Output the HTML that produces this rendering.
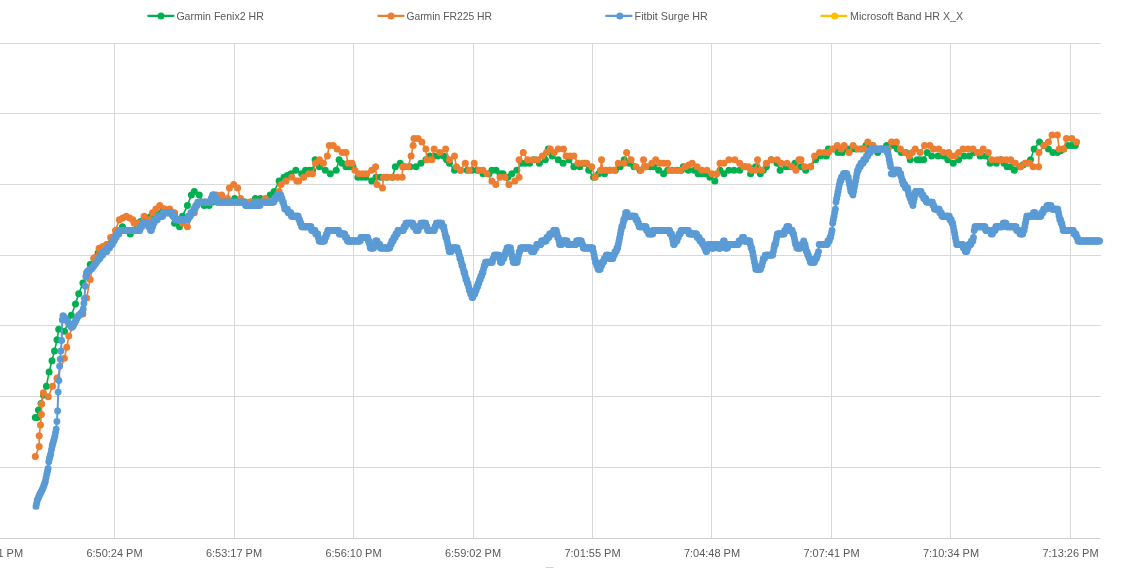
<!DOCTYPE html>
<html><head><meta charset="utf-8"><title>HR chart</title>
<style>html,body{margin:0;padding:0;background:#fff;overflow:hidden;}body{position:relative;width:1121px;height:568px;font-family:"Liberation Sans",sans-serif;}</style>
</head><body>
<svg width="1121" height="568" viewBox="0 0 1121 568" style="display:block">
<rect width="1121" height="568" fill="#ffffff"/>
<g fill="#D9D9D9" shape-rendering="crispEdges"><rect x="0" y="43" width="1100.6" height="1"/><rect x="0" y="113" width="1100.6" height="1"/><rect x="0" y="184" width="1100.6" height="1"/><rect x="0" y="255" width="1100.6" height="1"/><rect x="0" y="325" width="1100.6" height="1"/><rect x="0" y="396" width="1100.6" height="1"/><rect x="0" y="467" width="1100.6" height="1"/><rect x="114" y="43" width="1" height="495"/><rect x="234" y="43" width="1" height="495"/><rect x="353" y="43" width="1" height="495"/><rect x="473" y="43" width="1" height="495"/><rect x="592" y="43" width="1" height="495"/><rect x="711" y="43" width="1" height="495"/><rect x="831" y="43" width="1" height="495"/><rect x="950" y="43" width="1" height="495"/><rect x="1070" y="43" width="1" height="495"/></g>
<rect x="0" y="538" width="1100.6" height="1" fill="#CFCFCF"/>
<polyline points="35.3,417.5 37.3,417.5 38.5,410.0 41.0,403.4 43.5,395.0 46.4,386.2 49.1,371.9 52.0,360.8 54.5,350.9 57.0,339.8 58.7,329.2 64.4,331.2 71.3,315.2 75.5,304.1 78.7,293.7 82.9,283.1 86.6,274.5 90.2,264.6 93.9,258.5 98.0,253.0 102.0,248.0 107.0,244.5 112.0,237.4 117.0,230.4 122.4,226.8 126.5,230.4 130.3,233.9 137.2,223.3 144.0,219.8 151.0,216.2 157.0,212.7 163.0,209.1 168.0,212.7 174.6,223.3 179.5,226.8 182.5,216.2 187.4,205.6 191.4,195.0 194.3,191.5 199.3,195.0 204.2,205.6 209.1,205.6 213.0,202.1 225.0,202.1 231.0,202.1 234.7,198.5 238.5,202.1 245.0,202.1 251.5,202.1 255.4,198.5 258.0,202.1 260.4,198.5 263.5,202.1 267.0,202.1 270.2,195.0 274.2,191.5 279.1,180.9 284.0,177.3 290.9,173.8 295.8,170.3 301.7,173.8 305.5,170.3 309.6,170.3 312.5,170.3 315.1,159.7 319.4,166.7 325.3,170.3 330.3,173.8 336.2,170.3 339.1,159.7 342.1,163.2 346.0,166.7 349.5,166.7 352.9,166.7 357.9,177.3 361.8,177.3 365.7,177.3 371.7,180.9 376.0,177.3 380.5,177.3 386.5,177.3 392.4,177.3 395.3,166.7 400.2,163.2 404.5,166.7 410.0,166.7 416.0,166.7 420.9,163.2 425.9,159.7 429.8,156.1 433.8,156.1 437.7,156.1 443.6,156.1 449.5,163.2 454.5,170.3 460.5,170.3 467.3,170.3 472.0,170.3 477.1,170.3 483.0,173.8 489.0,173.8 491.9,170.3 496.0,170.3 500.0,173.8 503.0,173.8 507.9,177.3 511.8,173.8 516.8,170.3 521.7,163.2 525.5,163.2 529.6,163.2 534.5,159.7 539.4,163.2 545.3,159.7 548.3,149.1 552.2,156.1 558.2,159.7 563.1,163.2 569.0,159.7 573.9,166.7 579.8,166.7 584.5,163.2 588.7,170.3 593.6,177.3 598.6,173.8 604.5,173.8 609.5,170.3 615.3,170.3 620.2,166.7 624.2,159.7 629.1,163.2 634.0,166.7 640.0,170.3 645.9,166.7 650.0,166.7 653.8,166.7 658.7,170.3 663.6,173.8 667.6,170.3 672.0,170.3 677.0,170.3 681.4,170.3 683.3,166.7 688.3,170.3 694.2,170.3 698.1,173.8 701.5,173.8 705.0,173.8 709.9,177.3 714.9,180.9 720.0,170.3 723.9,173.8 728.9,170.3 734.0,170.3 739.7,170.3 745.5,166.7 750.6,173.8 755.5,166.7 760.4,173.8 766.3,166.7 771.3,159.7 777.0,163.2 780.1,170.3 786.0,166.7 790.5,166.7 794.9,163.2 800.8,166.7 805.7,170.3 810.5,166.7 815.6,159.7 820.5,156.1 826.4,156.1 828.4,149.1 834.0,149.1 838.0,152.6 842.2,152.6 848.0,149.1 852.0,149.1 856.0,149.1 861.0,149.1 865.9,145.5 872.8,145.5 877.7,152.6 882.0,149.1 886.6,145.5 893.5,145.5 897.4,149.1 901.3,152.6 906.0,152.6 910.2,159.7 917.1,159.7 920.0,159.7 923.6,159.7 927.2,152.6 931.7,156.1 938.0,156.1 943.4,156.1 947.8,159.7 953.2,163.2 958.6,159.7 964.0,156.1 969.4,156.1 974.0,152.6 980.2,156.1 985.6,156.1 990.1,163.2 996.3,163.2 1000.8,159.7 1007.1,166.7 1010.7,166.7 1014.3,170.3 1019.7,166.7 1026.0,163.2 1030.5,159.7 1034.1,149.1 1039.5,142.0 1043.9,145.5 1048.4,149.1 1052.9,152.6 1057.4,152.6 1063.7,149.1 1068.2,145.5 1072.0,145.5 1075.4,145.5" fill="none" stroke="#00B050" stroke-width="1.6" stroke-linejoin="round" stroke-linecap="round"/><g fill="#00B050"><circle cx="35.3" cy="417.5" r="3.5"/><circle cx="37.3" cy="417.5" r="3.5"/><circle cx="38.5" cy="410.0" r="3.5"/><circle cx="41.0" cy="403.4" r="3.5"/><circle cx="43.5" cy="395.0" r="3.5"/><circle cx="46.4" cy="386.2" r="3.5"/><circle cx="49.1" cy="371.9" r="3.5"/><circle cx="52.0" cy="360.8" r="3.5"/><circle cx="54.5" cy="350.9" r="3.5"/><circle cx="57.0" cy="339.8" r="3.5"/><circle cx="58.7" cy="329.2" r="3.5"/><circle cx="64.4" cy="331.2" r="3.5"/><circle cx="71.3" cy="315.2" r="3.5"/><circle cx="75.5" cy="304.1" r="3.5"/><circle cx="78.7" cy="293.7" r="3.5"/><circle cx="82.9" cy="283.1" r="3.5"/><circle cx="86.6" cy="274.5" r="3.5"/><circle cx="90.2" cy="264.6" r="3.5"/><circle cx="93.9" cy="258.5" r="3.5"/><circle cx="98.0" cy="253.0" r="3.5"/><circle cx="102.0" cy="248.0" r="3.5"/><circle cx="107.0" cy="244.5" r="3.5"/><circle cx="112.0" cy="237.4" r="3.5"/><circle cx="117.0" cy="230.4" r="3.5"/><circle cx="122.4" cy="226.8" r="3.5"/><circle cx="126.5" cy="230.4" r="3.5"/><circle cx="130.3" cy="233.9" r="3.5"/><circle cx="137.2" cy="223.3" r="3.5"/><circle cx="140.6" cy="221.5" r="3.5"/><circle cx="144.0" cy="219.8" r="3.5"/><circle cx="147.5" cy="218.0" r="3.5"/><circle cx="151.0" cy="216.2" r="3.5"/><circle cx="157.0" cy="212.7" r="3.5"/><circle cx="163.0" cy="209.1" r="3.5"/><circle cx="168.0" cy="212.7" r="3.5"/><circle cx="174.6" cy="223.3" r="3.5"/><circle cx="179.5" cy="226.8" r="3.5"/><circle cx="182.5" cy="216.2" r="3.5"/><circle cx="187.4" cy="205.6" r="3.5"/><circle cx="191.4" cy="195.0" r="3.5"/><circle cx="194.3" cy="191.5" r="3.5"/><circle cx="199.3" cy="195.0" r="3.5"/><circle cx="204.2" cy="205.6" r="3.5"/><circle cx="209.1" cy="205.6" r="3.5"/><circle cx="213.0" cy="202.1" r="3.5"/><circle cx="217.0" cy="202.1" r="3.5"/><circle cx="221.0" cy="202.1" r="3.5"/><circle cx="225.0" cy="202.1" r="3.5"/><circle cx="231.0" cy="202.1" r="3.5"/><circle cx="234.7" cy="198.5" r="3.5"/><circle cx="238.5" cy="202.1" r="3.5"/><circle cx="245.0" cy="202.1" r="3.5"/><circle cx="251.5" cy="202.1" r="3.5"/><circle cx="255.4" cy="198.5" r="3.5"/><circle cx="258.0" cy="202.1" r="3.5"/><circle cx="260.4" cy="198.5" r="3.5"/><circle cx="263.5" cy="202.1" r="3.5"/><circle cx="267.0" cy="202.1" r="3.5"/><circle cx="270.2" cy="195.0" r="3.5"/><circle cx="274.2" cy="191.5" r="3.5"/><circle cx="279.1" cy="180.9" r="3.5"/><circle cx="284.0" cy="177.3" r="3.5"/><circle cx="287.4" cy="175.6" r="3.5"/><circle cx="290.9" cy="173.8" r="3.5"/><circle cx="295.8" cy="170.3" r="3.5"/><circle cx="301.7" cy="173.8" r="3.5"/><circle cx="305.5" cy="170.3" r="3.5"/><circle cx="309.6" cy="170.3" r="3.5"/><circle cx="312.5" cy="170.3" r="3.5"/><circle cx="315.1" cy="159.7" r="3.5"/><circle cx="319.4" cy="166.7" r="3.5"/><circle cx="325.3" cy="170.3" r="3.5"/><circle cx="330.3" cy="173.8" r="3.5"/><circle cx="336.2" cy="170.3" r="3.5"/><circle cx="339.1" cy="159.7" r="3.5"/><circle cx="342.1" cy="163.2" r="3.5"/><circle cx="346.0" cy="166.7" r="3.5"/><circle cx="349.5" cy="166.7" r="3.5"/><circle cx="352.9" cy="166.7" r="3.5"/><circle cx="357.9" cy="177.3" r="3.5"/><circle cx="361.8" cy="177.3" r="3.5"/><circle cx="365.7" cy="177.3" r="3.5"/><circle cx="371.7" cy="180.9" r="3.5"/><circle cx="376.0" cy="177.3" r="3.5"/><circle cx="380.5" cy="177.3" r="3.5"/><circle cx="386.5" cy="177.3" r="3.5"/><circle cx="392.4" cy="177.3" r="3.5"/><circle cx="395.3" cy="166.7" r="3.5"/><circle cx="400.2" cy="163.2" r="3.5"/><circle cx="404.5" cy="166.7" r="3.5"/><circle cx="410.0" cy="166.7" r="3.5"/><circle cx="416.0" cy="166.7" r="3.5"/><circle cx="420.9" cy="163.2" r="3.5"/><circle cx="425.9" cy="159.7" r="3.5"/><circle cx="429.8" cy="156.1" r="3.5"/><circle cx="433.8" cy="156.1" r="3.5"/><circle cx="437.7" cy="156.1" r="3.5"/><circle cx="443.6" cy="156.1" r="3.5"/><circle cx="446.6" cy="159.7" r="3.5"/><circle cx="449.5" cy="163.2" r="3.5"/><circle cx="454.5" cy="170.3" r="3.5"/><circle cx="460.5" cy="170.3" r="3.5"/><circle cx="467.3" cy="170.3" r="3.5"/><circle cx="472.0" cy="170.3" r="3.5"/><circle cx="477.1" cy="170.3" r="3.5"/><circle cx="483.0" cy="173.8" r="3.5"/><circle cx="489.0" cy="173.8" r="3.5"/><circle cx="491.9" cy="170.3" r="3.5"/><circle cx="496.0" cy="170.3" r="3.5"/><circle cx="500.0" cy="173.8" r="3.5"/><circle cx="503.0" cy="173.8" r="3.5"/><circle cx="507.9" cy="177.3" r="3.5"/><circle cx="511.8" cy="173.8" r="3.5"/><circle cx="516.8" cy="170.3" r="3.5"/><circle cx="521.7" cy="163.2" r="3.5"/><circle cx="525.5" cy="163.2" r="3.5"/><circle cx="529.6" cy="163.2" r="3.5"/><circle cx="534.5" cy="159.7" r="3.5"/><circle cx="539.4" cy="163.2" r="3.5"/><circle cx="545.3" cy="159.7" r="3.5"/><circle cx="548.3" cy="149.1" r="3.5"/><circle cx="552.2" cy="156.1" r="3.5"/><circle cx="558.2" cy="159.7" r="3.5"/><circle cx="563.1" cy="163.2" r="3.5"/><circle cx="569.0" cy="159.7" r="3.5"/><circle cx="573.9" cy="166.7" r="3.5"/><circle cx="579.8" cy="166.7" r="3.5"/><circle cx="584.5" cy="163.2" r="3.5"/><circle cx="588.7" cy="170.3" r="3.5"/><circle cx="593.6" cy="177.3" r="3.5"/><circle cx="598.6" cy="173.8" r="3.5"/><circle cx="604.5" cy="173.8" r="3.5"/><circle cx="609.5" cy="170.3" r="3.5"/><circle cx="615.3" cy="170.3" r="3.5"/><circle cx="620.2" cy="166.7" r="3.5"/><circle cx="624.2" cy="159.7" r="3.5"/><circle cx="629.1" cy="163.2" r="3.5"/><circle cx="634.0" cy="166.7" r="3.5"/><circle cx="640.0" cy="170.3" r="3.5"/><circle cx="645.9" cy="166.7" r="3.5"/><circle cx="650.0" cy="166.7" r="3.5"/><circle cx="653.8" cy="166.7" r="3.5"/><circle cx="658.7" cy="170.3" r="3.5"/><circle cx="663.6" cy="173.8" r="3.5"/><circle cx="667.6" cy="170.3" r="3.5"/><circle cx="672.0" cy="170.3" r="3.5"/><circle cx="677.0" cy="170.3" r="3.5"/><circle cx="681.4" cy="170.3" r="3.5"/><circle cx="683.3" cy="166.7" r="3.5"/><circle cx="688.3" cy="170.3" r="3.5"/><circle cx="694.2" cy="170.3" r="3.5"/><circle cx="698.1" cy="173.8" r="3.5"/><circle cx="701.5" cy="173.8" r="3.5"/><circle cx="705.0" cy="173.8" r="3.5"/><circle cx="709.9" cy="177.3" r="3.5"/><circle cx="714.9" cy="180.9" r="3.5"/><circle cx="720.0" cy="170.3" r="3.5"/><circle cx="723.9" cy="173.8" r="3.5"/><circle cx="728.9" cy="170.3" r="3.5"/><circle cx="734.0" cy="170.3" r="3.5"/><circle cx="739.7" cy="170.3" r="3.5"/><circle cx="745.5" cy="166.7" r="3.5"/><circle cx="750.6" cy="173.8" r="3.5"/><circle cx="755.5" cy="166.7" r="3.5"/><circle cx="760.4" cy="173.8" r="3.5"/><circle cx="763.3" cy="170.3" r="3.5"/><circle cx="766.3" cy="166.7" r="3.5"/><circle cx="771.3" cy="159.7" r="3.5"/><circle cx="777.0" cy="163.2" r="3.5"/><circle cx="780.1" cy="170.3" r="3.5"/><circle cx="786.0" cy="166.7" r="3.5"/><circle cx="790.5" cy="166.7" r="3.5"/><circle cx="794.9" cy="163.2" r="3.5"/><circle cx="800.8" cy="166.7" r="3.5"/><circle cx="805.7" cy="170.3" r="3.5"/><circle cx="810.5" cy="166.7" r="3.5"/><circle cx="815.6" cy="159.7" r="3.5"/><circle cx="820.5" cy="156.1" r="3.5"/><circle cx="826.4" cy="156.1" r="3.5"/><circle cx="828.4" cy="149.1" r="3.5"/><circle cx="834.0" cy="149.1" r="3.5"/><circle cx="838.0" cy="152.6" r="3.5"/><circle cx="842.2" cy="152.6" r="3.5"/><circle cx="848.0" cy="149.1" r="3.5"/><circle cx="852.0" cy="149.1" r="3.5"/><circle cx="856.0" cy="149.1" r="3.5"/><circle cx="861.0" cy="149.1" r="3.5"/><circle cx="865.9" cy="145.5" r="3.5"/><circle cx="872.8" cy="145.5" r="3.5"/><circle cx="877.7" cy="152.6" r="3.5"/><circle cx="882.0" cy="149.1" r="3.5"/><circle cx="886.6" cy="145.5" r="3.5"/><circle cx="893.5" cy="145.5" r="3.5"/><circle cx="897.4" cy="149.1" r="3.5"/><circle cx="901.3" cy="152.6" r="3.5"/><circle cx="906.0" cy="152.6" r="3.5"/><circle cx="910.2" cy="159.7" r="3.5"/><circle cx="917.1" cy="159.7" r="3.5"/><circle cx="920.0" cy="159.7" r="3.5"/><circle cx="923.6" cy="159.7" r="3.5"/><circle cx="927.2" cy="152.6" r="3.5"/><circle cx="931.7" cy="156.1" r="3.5"/><circle cx="938.0" cy="156.1" r="3.5"/><circle cx="943.4" cy="156.1" r="3.5"/><circle cx="947.8" cy="159.7" r="3.5"/><circle cx="953.2" cy="163.2" r="3.5"/><circle cx="958.6" cy="159.7" r="3.5"/><circle cx="964.0" cy="156.1" r="3.5"/><circle cx="969.4" cy="156.1" r="3.5"/><circle cx="974.0" cy="152.6" r="3.5"/><circle cx="980.2" cy="156.1" r="3.5"/><circle cx="985.6" cy="156.1" r="3.5"/><circle cx="990.1" cy="163.2" r="3.5"/><circle cx="996.3" cy="163.2" r="3.5"/><circle cx="1000.8" cy="159.7" r="3.5"/><circle cx="1004.0" cy="163.2" r="3.5"/><circle cx="1007.1" cy="166.7" r="3.5"/><circle cx="1010.7" cy="166.7" r="3.5"/><circle cx="1014.3" cy="170.3" r="3.5"/><circle cx="1019.7" cy="166.7" r="3.5"/><circle cx="1022.9" cy="165.0" r="3.5"/><circle cx="1026.0" cy="163.2" r="3.5"/><circle cx="1030.5" cy="159.7" r="3.5"/><circle cx="1034.1" cy="149.1" r="3.5"/><circle cx="1039.5" cy="142.0" r="3.5"/><circle cx="1043.9" cy="145.5" r="3.5"/><circle cx="1048.4" cy="149.1" r="3.5"/><circle cx="1052.9" cy="152.6" r="3.5"/><circle cx="1057.4" cy="152.6" r="3.5"/><circle cx="1060.6" cy="150.8" r="3.5"/><circle cx="1063.7" cy="149.1" r="3.5"/><circle cx="1068.2" cy="145.5" r="3.5"/><circle cx="1072.0" cy="145.5" r="3.5"/><circle cx="1075.4" cy="145.5" r="3.5"/></g>
<polyline points="35.3,456.4 39.2,446.6 39.2,435.7 40.5,424.9 41.4,414.5 41.7,403.9 43.4,392.8 48.3,396.8 52.5,386.2 57.0,378.0 64.4,358.3 66.8,347.2 68.8,336.1 73.0,326.3 82.9,313.9 86.6,297.9 90.2,279.4 93.9,258.5 94.8,257.6 99.1,248.3 106.6,244.5 110.6,237.4 115.5,230.4 119.4,219.8 126.3,216.2 132.8,219.8 134.2,223.3 139.1,223.3 144.1,216.2 149.0,219.8 152.5,212.7 155.9,209.1 159.8,205.6 164.8,209.1 169.7,209.1 174.6,212.7 178.5,219.8 182.5,223.3 187.4,226.8 194.3,212.7 196.3,205.6 200.0,202.1 210.0,202.1 216.5,195.0 221.6,195.0 222.6,198.5 227.5,198.5 229.4,187.9 233.7,184.4 237.7,187.9 240.5,198.5 243.0,202.1 250.0,202.1 258.0,202.1 262.0,202.1 265.3,198.5 268.5,202.1 272.0,202.1 275.5,198.5 279.1,191.5 281.1,184.4 286.0,180.9 291.9,177.3 296.8,180.9 298.7,180.9 303.7,177.3 308.6,173.8 312.5,173.8 315.5,163.2 319.4,159.7 323.4,163.2 327.3,156.1 329.3,145.5 333.2,145.5 337.2,149.1 342.1,152.6 346.0,152.6 348.0,163.2 352.0,163.2 354.9,170.3 358.8,173.8 362.7,173.8 366.7,173.8 371.7,170.3 375.6,166.7 377.0,184.4 382.5,187.9 383.5,177.3 388.2,177.3 392.9,177.3 397.6,177.3 402.2,177.3 402.6,166.7 408.1,166.7 411.1,156.1 413.1,145.5 414.0,138.4 418.0,138.4 421.9,142.0 425.9,149.1 426.9,159.7 431.8,159.7 434.1,149.1 439.7,152.6 445.6,149.1 449.5,159.7 454.5,156.1 456.4,166.7 460.4,170.3 465.3,163.2 469.2,170.3 474.2,163.2 479.1,170.3 483.0,170.3 487.0,173.8 491.9,180.9 495.8,184.4 500.0,177.3 504.9,177.3 508.9,184.4 514.8,180.9 519.1,177.3 519.1,159.7 523.3,152.6 527.6,159.7 532.5,159.7 537.5,159.7 542.4,156.1 546.5,152.6 550.3,149.1 554.2,152.6 558.2,149.1 563.5,149.1 566.0,156.1 570.0,156.1 573.9,156.1 577.9,163.2 582.3,163.2 586.7,163.2 591.7,166.7 595.2,177.3 600.5,170.3 601.5,159.7 602.5,170.3 606.4,170.3 610.4,170.3 614.3,170.3 618.3,163.2 624.2,163.2 626.6,152.6 631.1,159.7 636.0,166.7 640.9,170.3 643.5,159.7 645.9,166.7 651.8,163.2 655.7,159.7 659.7,163.2 663.6,163.2 667.6,163.2 669.9,170.3 675.0,170.3 680.4,170.3 685.3,166.7 692.2,163.2 697.1,166.7 702.0,170.3 707.0,170.3 711.9,173.8 716.8,173.8 720.0,163.2 723.9,163.2 728.9,159.7 734.8,159.7 739.7,163.2 743.7,166.7 748.6,166.7 751.5,170.3 755.5,170.3 757.5,159.7 761.4,170.3 766.3,163.2 771.3,159.7 777.2,159.7 781.1,163.2 787.0,163.2 792.0,166.7 795.9,170.3 798.9,159.7 801.0,159.7 804.8,166.7 810.7,166.7 814.6,156.1 819.5,152.6 824.5,152.6 828.5,152.6 832.4,149.1 837.3,145.5 841.2,149.1 844.2,145.5 849.1,152.6 853.1,145.5 858.0,149.1 863.9,149.1 867.8,142.0 872.8,145.5 876.5,149.1 880.5,149.1 884.5,149.1 888.0,149.1 891.5,142.0 896.4,142.0 900.4,149.1 905.3,152.6 909.2,156.1 915.2,149.1 920.1,152.6 924.5,145.5 929.9,145.5 933.5,149.1 938.9,149.1 943.4,152.6 948.7,152.6 951.4,156.1 955.0,156.1 958.6,152.6 963.1,149.1 968.0,149.1 973.0,149.1 977.5,152.6 980.5,152.6 983.2,149.1 988.3,152.6 991.9,159.7 997.2,159.7 1001.5,159.7 1006.0,159.7 1010.7,159.7 1015.2,163.2 1020.6,166.7 1025.1,163.2 1029.6,163.2 1033.2,166.7 1038.6,166.7 1038.9,152.6 1043.9,145.5 1048.4,142.0 1052.0,134.9 1057.4,134.9 1059.2,149.1 1063.7,149.1 1066.4,138.4 1071.8,138.4 1076.6,142.0" fill="none" stroke="#ED7D31" stroke-width="1.6" stroke-linejoin="round" stroke-linecap="round"/><g fill="#ED7D31"><circle cx="35.3" cy="456.4" r="3.5"/><circle cx="39.2" cy="446.6" r="3.5"/><circle cx="39.2" cy="435.7" r="3.5"/><circle cx="40.5" cy="424.9" r="3.5"/><circle cx="41.4" cy="414.5" r="3.5"/><circle cx="41.7" cy="403.9" r="3.5"/><circle cx="43.4" cy="392.8" r="3.5"/><circle cx="48.3" cy="396.8" r="3.5"/><circle cx="52.5" cy="386.2" r="3.5"/><circle cx="57.0" cy="378.0" r="3.5"/><circle cx="64.4" cy="358.3" r="3.5"/><circle cx="66.8" cy="347.2" r="3.5"/><circle cx="68.8" cy="336.1" r="3.5"/><circle cx="73.0" cy="326.3" r="3.5"/><circle cx="82.9" cy="313.9" r="3.5"/><circle cx="86.6" cy="297.9" r="3.5"/><circle cx="90.2" cy="279.4" r="3.5"/><circle cx="93.9" cy="258.5" r="3.5"/><circle cx="94.8" cy="257.6" r="3.5"/><circle cx="99.1" cy="248.3" r="3.5"/><circle cx="102.8" cy="246.4" r="3.5"/><circle cx="106.6" cy="244.5" r="3.5"/><circle cx="110.6" cy="237.4" r="3.5"/><circle cx="115.5" cy="230.4" r="3.5"/><circle cx="119.4" cy="219.8" r="3.5"/><circle cx="122.8" cy="218.0" r="3.5"/><circle cx="126.3" cy="216.2" r="3.5"/><circle cx="129.6" cy="218.0" r="3.5"/><circle cx="132.8" cy="219.8" r="3.5"/><circle cx="134.2" cy="223.3" r="3.5"/><circle cx="139.1" cy="223.3" r="3.5"/><circle cx="144.1" cy="216.2" r="3.5"/><circle cx="149.0" cy="219.8" r="3.5"/><circle cx="152.5" cy="212.7" r="3.5"/><circle cx="155.9" cy="209.1" r="3.5"/><circle cx="159.8" cy="205.6" r="3.5"/><circle cx="164.8" cy="209.1" r="3.5"/><circle cx="169.7" cy="209.1" r="3.5"/><circle cx="174.6" cy="212.7" r="3.5"/><circle cx="178.5" cy="219.8" r="3.5"/><circle cx="182.5" cy="223.3" r="3.5"/><circle cx="187.4" cy="226.8" r="3.5"/><circle cx="194.3" cy="212.7" r="3.5"/><circle cx="196.3" cy="205.6" r="3.5"/><circle cx="200.0" cy="202.1" r="3.5"/><circle cx="205.0" cy="202.1" r="3.5"/><circle cx="210.0" cy="202.1" r="3.5"/><circle cx="213.2" cy="198.5" r="3.5"/><circle cx="216.5" cy="195.0" r="3.5"/><circle cx="221.6" cy="195.0" r="3.5"/><circle cx="222.6" cy="198.5" r="3.5"/><circle cx="227.5" cy="198.5" r="3.5"/><circle cx="229.4" cy="187.9" r="3.5"/><circle cx="233.7" cy="184.4" r="3.5"/><circle cx="237.7" cy="187.9" r="3.5"/><circle cx="240.5" cy="198.5" r="3.5"/><circle cx="243.0" cy="202.1" r="3.5"/><circle cx="250.0" cy="202.1" r="3.5"/><circle cx="254.0" cy="202.1" r="3.5"/><circle cx="258.0" cy="202.1" r="3.5"/><circle cx="262.0" cy="202.1" r="3.5"/><circle cx="265.3" cy="198.5" r="3.5"/><circle cx="268.5" cy="202.1" r="3.5"/><circle cx="272.0" cy="202.1" r="3.5"/><circle cx="275.5" cy="198.5" r="3.5"/><circle cx="279.1" cy="191.5" r="3.5"/><circle cx="281.1" cy="184.4" r="3.5"/><circle cx="286.0" cy="180.9" r="3.5"/><circle cx="291.9" cy="177.3" r="3.5"/><circle cx="296.8" cy="180.9" r="3.5"/><circle cx="298.7" cy="180.9" r="3.5"/><circle cx="303.7" cy="177.3" r="3.5"/><circle cx="308.6" cy="173.8" r="3.5"/><circle cx="312.5" cy="173.8" r="3.5"/><circle cx="315.5" cy="163.2" r="3.5"/><circle cx="319.4" cy="159.7" r="3.5"/><circle cx="323.4" cy="163.2" r="3.5"/><circle cx="327.3" cy="156.1" r="3.5"/><circle cx="329.3" cy="145.5" r="3.5"/><circle cx="333.2" cy="145.5" r="3.5"/><circle cx="337.2" cy="149.1" r="3.5"/><circle cx="342.1" cy="152.6" r="3.5"/><circle cx="346.0" cy="152.6" r="3.5"/><circle cx="348.0" cy="163.2" r="3.5"/><circle cx="352.0" cy="163.2" r="3.5"/><circle cx="354.9" cy="170.3" r="3.5"/><circle cx="358.8" cy="173.8" r="3.5"/><circle cx="362.7" cy="173.8" r="3.5"/><circle cx="366.7" cy="173.8" r="3.5"/><circle cx="371.7" cy="170.3" r="3.5"/><circle cx="375.6" cy="166.7" r="3.5"/><circle cx="377.0" cy="184.4" r="3.5"/><circle cx="382.5" cy="187.9" r="3.5"/><circle cx="383.5" cy="177.3" r="3.5"/><circle cx="388.2" cy="177.3" r="3.5"/><circle cx="392.9" cy="177.3" r="3.5"/><circle cx="397.6" cy="177.3" r="3.5"/><circle cx="402.2" cy="177.3" r="3.5"/><circle cx="402.6" cy="166.7" r="3.5"/><circle cx="408.1" cy="166.7" r="3.5"/><circle cx="411.1" cy="156.1" r="3.5"/><circle cx="413.1" cy="145.5" r="3.5"/><circle cx="414.0" cy="138.4" r="3.5"/><circle cx="418.0" cy="138.4" r="3.5"/><circle cx="421.9" cy="142.0" r="3.5"/><circle cx="425.9" cy="149.1" r="3.5"/><circle cx="426.9" cy="159.7" r="3.5"/><circle cx="431.8" cy="159.7" r="3.5"/><circle cx="434.1" cy="149.1" r="3.5"/><circle cx="439.7" cy="152.6" r="3.5"/><circle cx="445.6" cy="149.1" r="3.5"/><circle cx="449.5" cy="159.7" r="3.5"/><circle cx="454.5" cy="156.1" r="3.5"/><circle cx="456.4" cy="166.7" r="3.5"/><circle cx="460.4" cy="170.3" r="3.5"/><circle cx="465.3" cy="163.2" r="3.5"/><circle cx="469.2" cy="170.3" r="3.5"/><circle cx="474.2" cy="163.2" r="3.5"/><circle cx="479.1" cy="170.3" r="3.5"/><circle cx="483.0" cy="170.3" r="3.5"/><circle cx="487.0" cy="173.8" r="3.5"/><circle cx="491.9" cy="180.9" r="3.5"/><circle cx="495.8" cy="184.4" r="3.5"/><circle cx="500.0" cy="177.3" r="3.5"/><circle cx="504.9" cy="177.3" r="3.5"/><circle cx="508.9" cy="184.4" r="3.5"/><circle cx="514.8" cy="180.9" r="3.5"/><circle cx="519.1" cy="177.3" r="3.5"/><circle cx="519.1" cy="159.7" r="3.5"/><circle cx="523.3" cy="152.6" r="3.5"/><circle cx="527.6" cy="159.7" r="3.5"/><circle cx="532.5" cy="159.7" r="3.5"/><circle cx="537.5" cy="159.7" r="3.5"/><circle cx="542.4" cy="156.1" r="3.5"/><circle cx="546.5" cy="152.6" r="3.5"/><circle cx="550.3" cy="149.1" r="3.5"/><circle cx="554.2" cy="152.6" r="3.5"/><circle cx="558.2" cy="149.1" r="3.5"/><circle cx="563.5" cy="149.1" r="3.5"/><circle cx="566.0" cy="156.1" r="3.5"/><circle cx="570.0" cy="156.1" r="3.5"/><circle cx="573.9" cy="156.1" r="3.5"/><circle cx="577.9" cy="163.2" r="3.5"/><circle cx="582.3" cy="163.2" r="3.5"/><circle cx="586.7" cy="163.2" r="3.5"/><circle cx="591.7" cy="166.7" r="3.5"/><circle cx="595.2" cy="177.3" r="3.5"/><circle cx="600.5" cy="170.3" r="3.5"/><circle cx="601.5" cy="159.7" r="3.5"/><circle cx="602.5" cy="170.3" r="3.5"/><circle cx="606.4" cy="170.3" r="3.5"/><circle cx="610.4" cy="170.3" r="3.5"/><circle cx="614.3" cy="170.3" r="3.5"/><circle cx="618.3" cy="163.2" r="3.5"/><circle cx="624.2" cy="163.2" r="3.5"/><circle cx="626.6" cy="152.6" r="3.5"/><circle cx="631.1" cy="159.7" r="3.5"/><circle cx="636.0" cy="166.7" r="3.5"/><circle cx="640.9" cy="170.3" r="3.5"/><circle cx="643.5" cy="159.7" r="3.5"/><circle cx="645.9" cy="166.7" r="3.5"/><circle cx="651.8" cy="163.2" r="3.5"/><circle cx="655.7" cy="159.7" r="3.5"/><circle cx="659.7" cy="163.2" r="3.5"/><circle cx="663.6" cy="163.2" r="3.5"/><circle cx="667.6" cy="163.2" r="3.5"/><circle cx="669.9" cy="170.3" r="3.5"/><circle cx="675.0" cy="170.3" r="3.5"/><circle cx="680.4" cy="170.3" r="3.5"/><circle cx="685.3" cy="166.7" r="3.5"/><circle cx="688.8" cy="165.0" r="3.5"/><circle cx="692.2" cy="163.2" r="3.5"/><circle cx="697.1" cy="166.7" r="3.5"/><circle cx="702.0" cy="170.3" r="3.5"/><circle cx="707.0" cy="170.3" r="3.5"/><circle cx="711.9" cy="173.8" r="3.5"/><circle cx="716.8" cy="173.8" r="3.5"/><circle cx="720.0" cy="163.2" r="3.5"/><circle cx="723.9" cy="163.2" r="3.5"/><circle cx="728.9" cy="159.7" r="3.5"/><circle cx="734.8" cy="159.7" r="3.5"/><circle cx="739.7" cy="163.2" r="3.5"/><circle cx="743.7" cy="166.7" r="3.5"/><circle cx="748.6" cy="166.7" r="3.5"/><circle cx="751.5" cy="170.3" r="3.5"/><circle cx="755.5" cy="170.3" r="3.5"/><circle cx="757.5" cy="159.7" r="3.5"/><circle cx="761.4" cy="170.3" r="3.5"/><circle cx="766.3" cy="163.2" r="3.5"/><circle cx="771.3" cy="159.7" r="3.5"/><circle cx="777.2" cy="159.7" r="3.5"/><circle cx="781.1" cy="163.2" r="3.5"/><circle cx="787.0" cy="163.2" r="3.5"/><circle cx="792.0" cy="166.7" r="3.5"/><circle cx="795.9" cy="170.3" r="3.5"/><circle cx="798.9" cy="159.7" r="3.5"/><circle cx="801.0" cy="159.7" r="3.5"/><circle cx="804.8" cy="166.7" r="3.5"/><circle cx="810.7" cy="166.7" r="3.5"/><circle cx="814.6" cy="156.1" r="3.5"/><circle cx="819.5" cy="152.6" r="3.5"/><circle cx="824.5" cy="152.6" r="3.5"/><circle cx="828.5" cy="152.6" r="3.5"/><circle cx="832.4" cy="149.1" r="3.5"/><circle cx="837.3" cy="145.5" r="3.5"/><circle cx="841.2" cy="149.1" r="3.5"/><circle cx="844.2" cy="145.5" r="3.5"/><circle cx="849.1" cy="152.6" r="3.5"/><circle cx="853.1" cy="145.5" r="3.5"/><circle cx="858.0" cy="149.1" r="3.5"/><circle cx="863.9" cy="149.1" r="3.5"/><circle cx="867.8" cy="142.0" r="3.5"/><circle cx="872.8" cy="145.5" r="3.5"/><circle cx="876.5" cy="149.1" r="3.5"/><circle cx="880.5" cy="149.1" r="3.5"/><circle cx="884.5" cy="149.1" r="3.5"/><circle cx="888.0" cy="149.1" r="3.5"/><circle cx="891.5" cy="142.0" r="3.5"/><circle cx="896.4" cy="142.0" r="3.5"/><circle cx="900.4" cy="149.1" r="3.5"/><circle cx="905.3" cy="152.6" r="3.5"/><circle cx="909.2" cy="156.1" r="3.5"/><circle cx="912.2" cy="152.6" r="3.5"/><circle cx="915.2" cy="149.1" r="3.5"/><circle cx="920.1" cy="152.6" r="3.5"/><circle cx="924.5" cy="145.5" r="3.5"/><circle cx="929.9" cy="145.5" r="3.5"/><circle cx="933.5" cy="149.1" r="3.5"/><circle cx="938.9" cy="149.1" r="3.5"/><circle cx="943.4" cy="152.6" r="3.5"/><circle cx="948.7" cy="152.6" r="3.5"/><circle cx="951.4" cy="156.1" r="3.5"/><circle cx="955.0" cy="156.1" r="3.5"/><circle cx="958.6" cy="152.6" r="3.5"/><circle cx="963.1" cy="149.1" r="3.5"/><circle cx="968.0" cy="149.1" r="3.5"/><circle cx="973.0" cy="149.1" r="3.5"/><circle cx="977.5" cy="152.6" r="3.5"/><circle cx="980.5" cy="152.6" r="3.5"/><circle cx="983.2" cy="149.1" r="3.5"/><circle cx="988.3" cy="152.6" r="3.5"/><circle cx="991.9" cy="159.7" r="3.5"/><circle cx="997.2" cy="159.7" r="3.5"/><circle cx="1001.5" cy="159.7" r="3.5"/><circle cx="1006.0" cy="159.7" r="3.5"/><circle cx="1010.7" cy="159.7" r="3.5"/><circle cx="1015.2" cy="163.2" r="3.5"/><circle cx="1020.6" cy="166.7" r="3.5"/><circle cx="1025.1" cy="163.2" r="3.5"/><circle cx="1029.6" cy="163.2" r="3.5"/><circle cx="1033.2" cy="166.7" r="3.5"/><circle cx="1038.6" cy="166.7" r="3.5"/><circle cx="1038.9" cy="152.6" r="3.5"/><circle cx="1043.9" cy="145.5" r="3.5"/><circle cx="1048.4" cy="142.0" r="3.5"/><circle cx="1052.0" cy="134.9" r="3.5"/><circle cx="1057.4" cy="134.9" r="3.5"/><circle cx="1059.2" cy="149.1" r="3.5"/><circle cx="1063.7" cy="149.1" r="3.5"/><circle cx="1066.4" cy="138.4" r="3.5"/><circle cx="1071.8" cy="138.4" r="3.5"/><circle cx="1076.6" cy="142.0" r="3.5"/></g>
<polyline points="36.0,506.4 36.7,503.2 37.3,500.2 38.0,498.6 38.7,497.0 39.4,495.4 40.0,493.9 40.7,492.7 41.4,491.4 42.1,490.1 42.7,488.8 43.4,487.0 44.1,485.0 44.8,483.0 45.4,480.9 46.1,477.4 46.8,474.1 47.5,471.2 48.1,468.4 48.8,461.7 49.5,458.2 50.2,456.0 50.8,453.7 51.5,449.6 52.2,446.0 52.8,443.6 53.5,441.3 54.2,439.0 54.9,436.0 55.5,432.6 56.2,429.1 56.9,421.4 57.6,410.9 58.2,392.1 58.9,380.6 59.6,366.2 60.3,359.2 60.9,350.9 61.6,340.5 62.3,320.0 63.0,315.8 63.6,316.6 64.3,317.4 65.0,318.2 65.7,319.0 66.3,319.9 67.0,320.8 67.7,321.8 68.4,322.7 69.0,323.7 69.7,324.6 70.4,325.5 71.0,326.5 71.7,327.4 72.4,326.6 73.1,325.5 73.7,324.5 74.4,323.4 75.1,322.0 75.8,320.7 76.4,319.3 77.1,318.0 77.8,316.6 78.5,315.8 79.1,315.2 79.8,314.5 80.5,313.9 81.2,313.2 81.8,312.5 82.5,311.9 83.2,309.0 83.9,303.4 84.5,298.4 85.2,286.3 85.9,276.4 86.6,272.8 87.2,272.0 87.9,271.3 88.6,270.6 89.2,270.2 89.9,269.8 90.6,269.5 91.3,269.1 91.9,268.4 92.6,267.5 93.3,266.6 94.0,265.7 94.6,264.8 95.3,263.8 96.0,262.9 96.7,261.9 97.3,261.0 98.0,260.0 98.7,259.1 99.4,258.1 100.0,258.6 100.7,255.1 101.4,255.1 102.1,255.1 102.7,255.1 103.4,251.6 104.1,251.6 104.7,251.6 105.4,251.6 106.1,251.6 106.8,251.6 107.4,248.0 108.1,248.0 108.8,248.0 109.5,248.0 110.1,244.5 110.8,244.5 111.5,244.5 112.2,244.5 112.8,241.0 113.5,241.0 114.2,241.0 114.9,237.4 115.5,237.4 116.2,237.4 116.9,233.9 117.6,233.9 118.2,233.9 118.9,233.9 119.6,230.4 120.3,230.4 120.9,230.4 121.6,230.4 122.3,230.4 122.9,230.4 123.6,230.4 124.3,230.4 125.0,230.4 125.6,230.4 126.3,230.4 127.0,230.4 127.7,230.4 128.3,230.4 129.0,230.4 129.7,230.4 130.4,230.4 131.0,230.4 131.7,230.4 132.4,230.4 133.1,230.4 133.7,230.4 134.4,230.4 135.1,230.4 135.8,230.4 136.4,230.4 137.1,230.4 137.8,230.4 138.4,230.4 139.1,230.4 139.8,230.4 140.5,226.8 141.1,226.8 141.8,226.8 142.5,223.3 143.2,223.3 143.8,223.3 144.5,223.3 145.2,223.3 145.9,223.3 146.5,223.3 147.2,223.3 147.9,223.3 148.6,226.8 149.2,226.8 149.9,226.8 150.6,230.4 151.3,230.4 151.9,226.8 152.6,226.8 153.3,223.3 154.0,223.3 154.6,219.8 155.3,219.8 156.0,219.8 156.6,219.8 157.3,219.8 158.0,216.2 158.7,216.2 159.3,216.2 160.0,216.2 160.7,216.2 161.4,216.2 162.0,216.2 162.7,216.2 163.4,212.7 164.1,212.7 164.7,212.7 165.4,212.7 166.1,212.7 166.8,212.7 167.4,212.7 168.1,212.7 168.8,212.7 169.5,212.7 170.1,212.7 170.8,212.7 171.5,212.7 172.1,212.7 172.8,216.2 173.5,216.2 174.2,216.2 174.8,216.2 175.5,219.8 176.2,219.8 176.9,219.8 177.5,219.8 178.2,219.8 178.9,219.8 179.6,219.8 180.2,219.8 180.9,219.8 181.6,219.8 182.3,219.8 182.9,219.8 183.6,219.8 184.3,219.8 185.0,219.8 185.6,219.8 186.3,219.8 187.0,219.8 187.7,219.8 188.3,216.2 189.0,216.2 189.7,216.2 190.3,216.2 191.0,212.7 191.7,212.7 192.4,212.7 193.0,212.7 193.7,209.1 194.4,209.1 195.1,209.1 195.7,205.6 196.4,205.6 197.1,205.6 197.8,202.1 198.4,202.1 199.1,202.1 199.8,202.1 200.5,202.1 201.1,202.1 201.8,202.1 202.5,202.1 203.2,202.1 203.8,202.1 204.5,202.1 205.2,202.1 205.8,202.1 206.5,202.1 207.2,202.1 207.9,202.1 208.5,202.1 209.2,202.1 209.9,202.1 210.6,202.1 211.2,198.5 211.9,198.5 212.6,195.0 213.3,195.0 213.9,195.0 214.6,198.5 215.3,198.5 216.0,198.5 216.6,198.5 217.3,202.1 218.0,202.1 218.7,202.1 219.3,202.1 220.0,202.1 220.7,202.1 221.4,202.1 222.0,202.1 222.7,202.1 223.4,202.1 224.0,202.1 224.7,202.1 225.4,202.1 226.1,202.1 226.7,202.1 227.4,202.1 228.1,202.1 228.8,202.1 229.4,202.1 230.1,202.1 230.8,202.1 231.5,202.1 232.1,202.1 232.8,202.1 233.5,202.1 234.2,202.1 234.8,202.1 235.5,202.1 236.2,202.1 236.9,202.1 237.5,202.1 238.2,202.1 238.9,202.1 239.5,202.1 240.2,202.1 240.9,202.1 241.6,202.1 242.2,202.1 242.9,202.1 243.6,202.1 244.3,202.1 244.9,202.1 245.6,205.6 246.3,205.6 247.0,205.6 247.6,205.6 248.3,205.6 249.0,205.6 249.7,205.6 250.3,205.6 251.0,205.6 251.7,205.6 252.4,205.6 253.0,205.6 253.7,205.6 254.4,202.1 255.1,202.1 255.7,202.1 256.4,202.1 257.1,205.6 257.7,205.6 258.4,205.6 259.1,205.6 259.8,205.6 260.4,202.1 261.1,202.1 261.8,202.1 262.5,202.1 263.1,202.1 263.8,202.1 264.5,202.1 265.2,202.1 265.8,202.1 266.5,202.1 267.2,202.1 267.9,202.1 268.5,202.1 269.2,202.1 269.9,202.1 270.6,202.1 271.2,202.1 271.9,202.1 272.6,202.1 273.2,202.1 273.9,202.1 274.6,198.5 275.3,198.5 275.9,198.5 276.6,198.5 277.3,195.0 278.0,195.0 278.6,195.0 279.3,195.0 280.0,195.0 280.7,195.0 281.3,198.5 282.0,198.5 282.7,202.1 283.4,202.1 284.0,205.6 284.7,209.1 285.4,209.1 286.1,209.1 286.7,209.1 287.4,209.1 288.1,212.7 288.8,212.7 289.4,212.7 290.1,212.7 290.8,212.7 291.4,216.2 292.1,216.2 292.8,216.2 293.5,216.2 294.1,216.2 294.8,216.2 295.5,216.2 296.2,216.2 296.8,216.2 297.5,216.2 298.2,216.2 298.9,219.8 299.5,219.8 300.2,223.3 300.9,223.3 301.6,226.8 302.2,226.8 302.9,226.8 303.6,226.8 304.3,226.8 304.9,226.8 305.6,226.8 306.3,226.8 306.9,226.8 307.6,226.8 308.3,226.8 309.0,226.8 309.6,226.8 310.3,226.8 311.0,226.8 311.7,230.4 312.3,230.4 313.0,230.4 313.7,230.4 314.4,230.4 315.0,230.4 315.7,233.9 316.4,233.9 317.1,233.9 317.7,233.9 318.4,237.4 319.1,241.0 319.8,241.0 320.4,241.0 321.1,241.0 321.8,241.0 322.4,241.0 323.1,241.0 323.8,241.0 324.5,241.0 325.1,237.4 325.8,237.4 326.5,233.9 327.2,233.9 327.8,230.4 328.5,230.4 329.2,230.4 329.9,230.4 330.5,230.4 331.2,230.4 331.9,230.4 332.6,230.4 333.2,230.4 333.9,230.4 334.6,230.4 335.3,230.4 335.9,230.4 336.6,230.4 337.3,230.4 338.0,230.4 338.6,230.4 339.3,233.9 340.0,233.9 340.6,233.9 341.3,233.9 342.0,233.9 342.7,233.9 343.3,233.9 344.0,233.9 344.7,233.9 345.4,237.4 346.0,237.4 346.7,237.4 347.4,241.0 348.1,241.0 348.7,241.0 349.4,241.0 350.1,241.0 350.8,241.0 351.4,241.0 352.1,241.0 352.8,241.0 353.5,241.0 354.1,241.0 354.8,241.0 355.5,241.0 356.1,241.0 356.8,241.0 357.5,241.0 358.2,241.0 358.8,241.0 359.5,241.0 360.2,241.0 360.9,237.4 361.5,237.4 362.2,237.4 362.9,237.4 363.6,237.4 364.2,237.4 364.9,237.4 365.6,237.4 366.3,237.4 366.9,237.4 367.6,237.4 368.3,241.0 369.0,241.0 369.6,244.5 370.3,248.0 371.0,248.0 371.7,248.0 372.3,248.0 373.0,248.0 373.7,248.0 374.3,244.5 375.0,244.5 375.7,241.0 376.4,241.0 377.0,241.0 377.7,244.5 378.4,244.5 379.1,244.5 379.7,244.5 380.4,248.0 381.1,248.0 381.8,248.0 382.4,248.0 383.1,248.0 383.8,248.0 384.5,248.0 385.1,248.0 385.8,248.0 386.5,248.0 387.2,248.0 387.8,248.0 388.5,248.0 389.2,248.0 389.8,248.0 390.5,244.5 391.2,244.5 391.9,241.0 392.5,241.0 393.2,241.0 393.9,237.4 394.6,237.4 395.2,237.4 395.9,233.9 396.6,233.9 397.3,233.9 397.9,230.4 398.6,230.4 399.3,230.4 400.0,230.4 400.6,230.4 401.3,230.4 402.0,230.4 402.7,230.4 403.3,230.4 404.0,226.8 404.7,226.8 405.4,226.8 406.0,223.3 406.7,223.3 407.4,223.3 408.0,223.3 408.7,223.3 409.4,223.3 410.1,223.3 410.7,223.3 411.4,223.3 412.1,223.3 412.8,223.3 413.4,226.8 414.1,226.8 414.8,226.8 415.5,226.8 416.1,230.4 416.8,230.4 417.5,230.4 418.2,230.4 418.8,226.8 419.5,226.8 420.2,226.8 420.9,223.3 421.5,223.3 422.2,223.3 422.9,223.3 423.5,223.3 424.2,223.3 424.9,223.3 425.6,223.3 426.2,226.8 426.9,226.8 427.6,230.4 428.3,230.4 428.9,230.4 429.6,230.4 430.3,230.4 431.0,230.4 431.6,230.4 432.3,230.4 433.0,230.4 433.7,230.4 434.3,230.4 435.0,226.8 435.7,226.8 436.4,223.3 437.0,223.3 437.7,223.3 438.4,223.3 439.1,223.3 439.7,223.3 440.4,223.3 441.1,223.3 441.7,223.3 442.4,226.8 443.1,226.8 443.8,226.8 444.4,230.4 445.1,233.9 445.8,237.4 446.5,237.4 447.1,241.0 447.8,244.5 448.5,248.0 449.2,251.6 449.8,251.6 450.5,251.6 451.2,251.6 451.9,248.0 452.5,248.0 453.2,248.0 453.9,248.0 454.6,248.0 455.2,248.0 455.9,248.0 456.6,248.0 457.2,248.0 457.9,251.6 458.6,251.6 459.3,255.1 459.9,258.6 460.6,258.6 461.3,262.2 462.0,265.7 462.6,265.7 463.3,269.2 464.0,272.8 464.7,272.8 465.3,276.3 466.0,279.8 466.7,279.8 467.4,283.4 468.0,283.4 468.7,286.9 469.4,290.5 470.1,290.5 470.7,294.0 471.4,294.0 472.1,297.5 472.8,297.5 473.4,294.0 474.1,294.0 474.8,294.0 475.4,290.5 476.1,290.5 476.8,286.9 477.5,286.9 478.1,283.4 478.8,283.4 479.5,279.8 480.2,279.8 480.8,276.3 481.5,276.3 482.2,272.8 482.9,272.8 483.5,269.2 484.2,265.7 484.9,265.7 485.6,262.2 486.2,262.2 486.9,262.2 487.6,262.2 488.3,262.2 488.9,262.2 489.6,262.2 490.3,262.2 490.9,262.2 491.6,262.2 492.3,262.2 493.0,258.6 493.6,258.6 494.3,255.1 495.0,255.1 495.7,255.1 496.3,255.1 497.0,255.1 497.7,255.1 498.4,255.1 499.0,255.1 499.7,258.6 500.4,262.2 501.1,262.2 501.7,262.2 502.4,258.6 503.1,258.6 503.8,258.6 504.4,255.1 505.1,255.1 505.8,251.6 506.5,251.6 507.1,248.0 507.8,248.0 508.5,248.0 509.1,248.0 509.8,248.0 510.5,248.0 511.2,251.6 511.8,255.1 512.5,258.6 513.2,262.2 513.9,262.2 514.5,262.2 515.2,262.2 515.9,262.2 516.6,262.2 517.2,262.2 517.9,258.6 518.6,255.1 519.3,251.6 519.9,251.6 520.6,248.0 521.3,248.0 522.0,248.0 522.6,248.0 523.3,248.0 524.0,248.0 524.6,248.0 525.3,248.0 526.0,248.0 526.7,248.0 527.3,248.0 528.0,248.0 528.7,248.0 529.4,248.0 530.0,248.0 530.7,248.0 531.4,251.6 532.1,251.6 532.7,251.6 533.4,251.6 534.1,251.6 534.8,248.0 535.4,248.0 536.1,248.0 536.8,244.5 537.5,244.5 538.1,244.5 538.8,244.5 539.5,244.5 540.2,244.5 540.8,244.5 541.5,241.0 542.2,241.0 542.8,241.0 543.5,241.0 544.2,241.0 544.9,241.0 545.5,241.0 546.2,241.0 546.9,237.4 547.6,237.4 548.2,237.4 548.9,237.4 549.6,233.9 550.3,233.9 550.9,233.9 551.6,233.9 552.3,233.9 553.0,233.9 553.6,230.4 554.3,230.4 555.0,230.4 555.7,230.4 556.3,230.4 557.0,233.9 557.7,237.4 558.3,237.4 559.0,241.0 559.7,244.5 560.4,244.5 561.0,244.5 561.7,244.5 562.4,241.0 563.1,241.0 563.7,241.0 564.4,241.0 565.1,241.0 565.8,241.0 566.4,241.0 567.1,241.0 567.8,244.5 568.5,244.5 569.1,244.5 569.8,244.5 570.5,244.5 571.2,244.5 571.8,244.5 572.5,244.5 573.2,244.5 573.9,244.5 574.5,244.5 575.2,244.5 575.9,244.5 576.5,241.0 577.2,241.0 577.9,241.0 578.6,241.0 579.2,241.0 579.9,241.0 580.6,241.0 581.3,241.0 581.9,244.5 582.6,244.5 583.3,248.0 584.0,248.0 584.6,248.0 585.3,248.0 586.0,248.0 586.7,248.0 587.3,248.0 588.0,248.0 588.7,248.0 589.4,248.0 590.0,248.0 590.7,248.0 591.4,248.0 592.0,248.0 592.7,248.0 593.4,251.6 594.1,255.1 594.7,258.6 595.4,262.2 596.1,262.2 596.8,265.7 597.4,265.7 598.1,269.2 598.8,269.2 599.5,269.2 600.1,269.2 600.8,265.7 601.5,265.7 602.2,262.2 602.8,262.2 603.5,262.2 604.2,258.6 604.9,258.6 605.5,258.6 606.2,255.1 606.9,255.1 607.6,255.1 608.2,255.1 608.9,255.1 609.6,258.6 610.2,258.6 610.9,258.6 611.6,258.6 612.3,258.6 612.9,258.6 613.6,255.1 614.3,255.1 615.0,251.6 615.6,251.6 616.3,251.6 617.0,248.0 617.7,248.0 618.3,244.5 619.0,241.0 619.7,237.4 620.4,233.9 621.0,230.4 621.7,226.8 622.4,226.8 623.1,223.3 623.7,219.8 624.4,219.8 625.1,216.2 625.7,212.7 626.4,212.7 627.1,212.7 627.8,216.2 628.4,216.2 629.1,216.2 629.8,216.2 630.5,216.2 631.1,216.2 631.8,216.2 632.5,216.2 633.2,216.2 633.8,216.2 634.5,216.2 635.2,216.2 635.9,219.8 636.5,219.8 637.2,219.8 637.9,223.3 638.6,223.3 639.2,226.8 639.9,226.8 640.6,226.8 641.3,226.8 641.9,226.8 642.6,226.8 643.3,226.8 643.9,226.8 644.6,226.8 645.3,226.8 646.0,226.8 646.6,230.4 647.3,230.4 648.0,230.4 648.7,233.9 649.3,233.9 650.0,233.9 650.7,233.9 651.4,233.9 652.0,233.9 652.7,233.9 653.4,230.4 654.1,230.4 654.7,230.4 655.4,230.4 656.1,230.4 656.8,230.4 657.4,230.4 658.1,230.4 658.8,230.4 659.4,230.4 660.1,230.4 660.8,230.4 661.5,230.4 662.1,230.4 662.8,230.4 663.5,230.4 664.2,230.4 664.8,230.4 665.5,230.4 666.2,230.4 666.9,230.4 667.5,230.4 668.2,230.4 668.9,230.4 669.6,230.4 670.2,233.9 670.9,233.9 671.6,233.9 672.3,237.4 672.9,241.0 673.6,244.5 674.3,244.5 675.0,241.0 675.6,241.0 676.3,241.0 677.0,241.0 677.6,237.4 678.3,237.4 679.0,233.9 679.7,233.9 680.3,233.9 681.0,230.4 681.7,230.4 682.4,230.4 683.0,230.4 683.7,230.4 684.4,230.4 685.1,230.4 685.7,230.4 686.4,230.4 687.1,230.4 687.8,230.4 688.4,230.4 689.1,233.9 689.8,233.9 690.5,233.9 691.1,233.9 691.8,233.9 692.5,233.9 693.1,233.9 693.8,233.9 694.5,233.9 695.2,233.9 695.8,233.9 696.5,233.9 697.2,237.4 697.9,237.4 698.5,237.4 699.2,237.4 699.9,241.0 700.6,241.0 701.2,241.0 701.9,241.0 702.6,244.5 703.3,244.5 703.9,244.5 704.6,248.0 705.3,248.0 706.0,251.6 706.6,251.6 707.3,248.0 708.0,248.0 708.7,244.5 709.3,244.5 710.0,244.5 710.7,244.5 711.3,248.0 712.0,248.0 712.7,248.0 713.4,248.0 714.0,248.0 714.7,244.5 715.4,244.5 716.1,244.5 716.7,244.5 717.4,244.5 718.1,248.0 718.8,248.0 719.4,248.0 720.1,248.0 720.8,248.0 721.5,244.5 722.1,244.5 722.8,244.5 723.5,241.0 724.2,241.0 724.8,244.5 725.5,248.0 726.2,248.0 726.8,248.0 727.5,248.0 728.2,244.5 728.9,244.5 729.5,244.5 730.2,244.5 730.9,244.5 731.6,244.5 732.2,244.5 732.9,244.5 733.6,244.5 734.3,244.5 734.9,244.5 735.6,244.5 736.3,244.5 737.0,244.5 737.6,244.5 738.3,244.5 739.0,241.0 739.7,241.0 740.3,241.0 741.0,241.0 741.7,241.0 742.4,237.4 743.0,237.4 743.7,237.4 744.4,241.0 745.0,241.0 745.7,241.0 746.4,241.0 747.1,241.0 747.7,241.0 748.4,241.0 749.1,241.0 749.8,241.0 750.4,244.5 751.1,248.0 751.8,248.0 752.5,251.6 753.1,255.1 753.8,258.6 754.5,262.2 755.2,265.7 755.8,269.2 756.5,269.2 757.2,269.2 757.9,269.2 758.5,269.2 759.2,269.2 759.9,269.2 760.5,269.2 761.2,265.7 761.9,265.7 762.6,262.2 763.2,258.6 763.9,258.6 764.6,258.6 765.3,255.1 765.9,255.1 766.6,255.1 767.3,255.1 768.0,255.1 768.6,255.1 769.3,255.1 770.0,255.1 770.7,255.1 771.3,255.1 772.0,255.1 772.7,255.1 773.4,251.6 774.0,248.0 774.7,244.5 775.4,244.5 776.1,241.0 776.7,237.4 777.4,233.9 778.1,233.9 778.7,233.9 779.4,233.9 780.1,233.9 780.8,233.9 781.4,233.9 782.1,233.9 782.8,233.9 783.5,233.9 784.1,233.9 784.8,230.4 785.5,230.4 786.2,230.4 786.8,226.8 787.5,226.8 788.2,226.8 788.9,226.8 789.5,230.4 790.2,230.4 790.9,230.4 791.6,230.4 792.2,230.4 792.9,233.9 793.6,233.9 794.2,237.4 794.9,241.0 795.6,244.5 796.3,244.5 796.9,248.0 797.6,248.0 798.3,248.0 799.0,248.0 799.6,248.0 800.3,248.0 801.0,248.0 801.7,244.5 802.3,244.5 803.0,244.5 803.7,241.0 804.4,244.5 805.0,244.5 805.7,248.0 806.4,251.6 807.1,251.6 807.7,255.1 808.4,255.1 809.1,258.6 809.8,258.6 810.4,262.2 811.1,262.2 811.8,262.2 812.4,262.2 813.1,262.2 813.8,262.2 814.5,262.2 815.1,258.6 815.8,258.6 816.5,258.6 817.2,255.1 817.8,255.1 818.5,251.6 819.2,244.5 819.9,244.5 820.5,244.5 821.2,244.5 821.9,244.5 822.6,244.5 823.2,244.5 823.9,244.5 824.6,244.5 825.3,244.5 825.9,244.5 826.6,244.5 827.3,244.5 827.9,241.0 828.6,241.0 829.3,241.0 830.0,237.4 830.6,237.4 831.3,233.9 832.0,230.4 832.7,223.3 833.3,219.8 834.0,216.2 834.7,212.7 835.4,209.1 836.0,202.1 836.7,198.5 837.4,195.0 838.1,191.5 838.7,187.9 839.4,184.4 840.1,180.9 840.8,180.9 841.4,177.3 842.1,177.3 842.8,177.3 843.5,173.8 844.1,173.8 844.8,173.8 845.5,173.8 846.1,173.8 846.8,173.8 847.5,177.3 848.2,177.3 848.8,180.9 849.5,184.4 850.2,187.9 850.9,191.5 851.5,191.5 852.2,191.5 852.9,195.0 853.6,191.5 854.2,187.9 854.9,184.4 855.6,180.9 856.3,177.3 856.9,173.8 857.6,170.3 858.3,170.3 859.0,166.7 859.6,166.7 860.3,166.7 861.0,163.2 861.6,163.2 862.3,163.2 863.0,163.2 863.7,159.7 864.3,159.7 865.0,159.7 865.7,159.7 866.4,156.1 867.0,156.1 867.7,156.1 868.4,152.6 869.1,152.6 869.7,152.6 870.4,152.6 871.1,149.1 871.8,149.1 872.4,149.1 873.1,149.1 873.8,149.1 874.5,149.1 875.1,149.1 875.8,149.1 876.5,149.1 877.2,149.1 877.8,149.1 878.5,149.1 879.2,149.1 879.8,149.1 880.5,149.1 881.2,149.1 881.9,149.1 882.5,149.1 883.2,149.1 883.9,149.1 884.6,149.1 885.2,149.1 885.9,149.1 886.6,149.1 887.3,152.6 887.9,152.6 888.6,156.1 889.3,159.7 890.0,163.2 890.6,166.7 891.3,173.8 892.0,173.8 892.7,173.8 893.3,173.8 894.0,173.8 894.7,170.3 895.3,170.3 896.0,170.3 896.7,170.3 897.4,170.3 898.0,170.3 898.7,170.3 899.4,173.8 900.1,173.8 900.7,173.8 901.4,177.3 902.1,180.9 902.8,180.9 903.4,184.4 904.1,184.4 904.8,184.4 905.5,187.9 906.1,187.9 906.8,187.9 907.5,187.9 908.2,191.5 908.8,195.0 909.5,195.0 910.2,198.5 910.9,198.5 911.5,202.1 912.2,202.1 912.9,205.6 913.5,202.1 914.2,198.5 914.9,195.0 915.6,191.5 916.2,191.5 916.9,191.5 917.6,191.5 918.3,191.5 918.9,191.5 919.6,191.5 920.3,191.5 921.0,191.5 921.6,195.0 922.3,195.0 923.0,195.0 923.7,198.5 924.3,198.5 925.0,198.5 925.7,198.5 926.4,202.1 927.0,202.1 927.7,202.1 928.4,202.1 929.0,202.1 929.7,202.1 930.4,202.1 931.1,202.1 931.7,202.1 932.4,202.1 933.1,205.6 933.8,205.6 934.4,209.1 935.1,209.1 935.8,209.1 936.5,209.1 937.1,209.1 937.8,209.1 938.5,209.1 939.2,209.1 939.8,212.7 940.5,212.7 941.2,212.7 941.9,216.2 942.5,216.2 943.2,216.2 943.9,216.2 944.6,216.2 945.2,216.2 945.9,216.2 946.6,216.2 947.2,216.2 947.9,216.2 948.6,216.2 949.3,216.2 949.9,219.8 950.6,219.8 951.3,219.8 952.0,223.3 952.6,223.3 953.3,226.8 954.0,230.4 954.7,233.9 955.3,237.4 956.0,241.0 956.7,244.5 957.4,244.5 958.0,244.5 958.7,244.5 959.4,244.5 960.1,244.5 960.7,244.5 961.4,244.5 962.1,244.5 962.7,244.5 963.4,248.0 964.1,248.0 964.8,248.0 965.4,251.6 966.1,251.6 966.8,251.6 967.5,248.0 968.1,248.0 968.8,244.5 969.5,244.5 970.2,244.5 970.8,244.5 971.5,241.0 972.2,241.0 972.9,241.0 973.5,237.4 974.2,230.4 974.9,226.8 975.6,226.8 976.2,226.8 976.9,226.8 977.6,226.8 978.3,226.8 978.9,226.8 979.6,226.8 980.3,226.8 980.9,226.8 981.6,226.8 982.3,226.8 983.0,226.8 983.6,226.8 984.3,226.8 985.0,226.8 985.7,230.4 986.3,230.4 987.0,230.4 987.7,230.4 988.4,230.4 989.0,230.4 989.7,230.4 990.4,230.4 991.1,233.9 991.7,233.9 992.4,233.9 993.1,230.4 993.8,230.4 994.4,230.4 995.1,230.4 995.8,226.8 996.4,226.8 997.1,226.8 997.8,226.8 998.5,226.8 999.1,226.8 999.8,226.8 1000.5,226.8 1001.2,226.8 1001.8,226.8 1002.5,226.8 1003.2,223.3 1003.9,223.3 1004.5,223.3 1005.2,223.3 1005.9,223.3 1006.6,226.8 1007.2,226.8 1007.9,226.8 1008.6,226.8 1009.3,226.8 1009.9,226.8 1010.6,226.8 1011.3,226.8 1012.0,226.8 1012.6,226.8 1013.3,226.8 1014.0,226.8 1014.6,226.8 1015.3,226.8 1016.0,226.8 1016.7,230.4 1017.3,230.4 1018.0,230.4 1018.7,230.4 1019.4,230.4 1020.0,233.9 1020.7,233.9 1021.4,233.9 1022.1,233.9 1022.7,233.9 1023.4,230.4 1024.1,230.4 1024.8,226.8 1025.4,223.3 1026.1,219.8 1026.8,216.2 1027.5,216.2 1028.1,216.2 1028.8,216.2 1029.5,216.2 1030.1,216.2 1030.8,216.2 1031.5,216.2 1032.2,216.2 1032.8,216.2 1033.5,212.7 1034.2,212.7 1034.9,212.7 1035.5,216.2 1036.2,216.2 1036.9,216.2 1037.6,216.2 1038.2,216.2 1038.9,216.2 1039.6,216.2 1040.3,216.2 1040.9,216.2 1041.6,212.7 1042.3,212.7 1043.0,212.7 1043.6,209.1 1044.3,209.1 1045.0,209.1 1045.7,209.1 1046.3,209.1 1047.0,205.6 1047.7,205.6 1048.3,205.6 1049.0,205.6 1049.7,205.6 1050.4,205.6 1051.0,205.6 1051.7,209.1 1052.4,209.1 1053.1,209.1 1053.7,209.1 1054.4,209.1 1055.1,209.1 1055.8,209.1 1056.4,209.1 1057.1,209.1 1057.8,209.1 1058.5,212.7 1059.1,216.2 1059.8,219.8 1060.5,219.8 1061.2,223.3 1061.8,223.3 1062.5,226.8 1063.2,230.4 1063.8,230.4 1064.5,230.4 1065.2,230.4 1065.9,230.4 1066.5,230.4 1067.2,230.4 1067.9,230.4 1068.6,230.4 1069.2,230.4 1069.9,230.4 1070.6,230.4 1071.3,230.4 1071.9,230.4 1072.6,230.4 1073.3,230.4 1074.0,233.9 1074.6,233.9 1075.3,233.9 1076.0,233.9 1076.7,237.4 1077.3,237.4 1078.0,241.0 1078.7,241.0 1079.4,241.0 1080.0,241.0 1080.7,241.0 1081.4,241.0 1082.0,241.0 1082.7,241.0 1083.4,241.0 1084.1,241.0 1084.7,241.0 1085.4,241.0 1086.1,241.0 1086.8,241.0 1087.4,241.0 1088.1,241.0 1088.8,241.0 1089.5,241.0 1090.1,241.0 1090.8,241.0 1091.5,241.0 1092.2,241.0 1092.8,241.0 1093.5,241.0 1094.2,241.0 1094.9,241.0 1095.5,241.0 1096.2,241.0 1096.9,241.0 1097.5,241.0 1098.2,241.0 1098.9,241.0 1099.6,241.0" fill="none" stroke="#5B9BD5" stroke-width="2.0" stroke-linejoin="round" stroke-linecap="round"/><g fill="#5B9BD5"><circle cx="36.0" cy="506.4" r="3.45"/><circle cx="36.7" cy="503.2" r="3.45"/><circle cx="37.3" cy="500.2" r="3.45"/><circle cx="38.0" cy="498.6" r="3.45"/><circle cx="38.7" cy="497.0" r="3.45"/><circle cx="39.4" cy="495.4" r="3.45"/><circle cx="40.0" cy="493.9" r="3.45"/><circle cx="40.7" cy="492.7" r="3.45"/><circle cx="41.4" cy="491.4" r="3.45"/><circle cx="42.1" cy="490.1" r="3.45"/><circle cx="42.7" cy="488.8" r="3.45"/><circle cx="43.4" cy="487.0" r="3.45"/><circle cx="44.1" cy="485.0" r="3.45"/><circle cx="44.8" cy="483.0" r="3.45"/><circle cx="45.4" cy="480.9" r="3.45"/><circle cx="46.1" cy="477.4" r="3.45"/><circle cx="46.8" cy="474.1" r="3.45"/><circle cx="47.5" cy="471.2" r="3.45"/><circle cx="48.1" cy="468.4" r="3.45"/><circle cx="48.8" cy="461.7" r="3.45"/><circle cx="49.5" cy="458.2" r="3.45"/><circle cx="50.2" cy="456.0" r="3.45"/><circle cx="50.8" cy="453.7" r="3.45"/><circle cx="51.5" cy="449.6" r="3.45"/><circle cx="52.2" cy="446.0" r="3.45"/><circle cx="52.8" cy="443.6" r="3.45"/><circle cx="53.5" cy="441.3" r="3.45"/><circle cx="54.2" cy="439.0" r="3.45"/><circle cx="54.9" cy="436.0" r="3.45"/><circle cx="55.5" cy="432.6" r="3.45"/><circle cx="56.2" cy="429.1" r="3.45"/><circle cx="56.9" cy="421.4" r="3.45"/><circle cx="57.6" cy="410.9" r="3.45"/><circle cx="58.2" cy="392.1" r="3.45"/><circle cx="58.9" cy="380.6" r="3.45"/><circle cx="59.6" cy="366.2" r="3.45"/><circle cx="60.3" cy="359.2" r="3.45"/><circle cx="60.9" cy="350.9" r="3.45"/><circle cx="61.6" cy="340.5" r="3.45"/><circle cx="62.3" cy="320.0" r="3.45"/><circle cx="63.0" cy="315.8" r="3.45"/><circle cx="63.6" cy="316.6" r="3.45"/><circle cx="64.3" cy="317.4" r="3.45"/><circle cx="65.0" cy="318.2" r="3.45"/><circle cx="65.7" cy="319.0" r="3.45"/><circle cx="66.3" cy="319.9" r="3.45"/><circle cx="67.0" cy="320.8" r="3.45"/><circle cx="67.7" cy="321.8" r="3.45"/><circle cx="68.4" cy="322.7" r="3.45"/><circle cx="69.0" cy="323.7" r="3.45"/><circle cx="69.7" cy="324.6" r="3.45"/><circle cx="70.4" cy="325.5" r="3.45"/><circle cx="71.0" cy="326.5" r="3.45"/><circle cx="71.7" cy="327.4" r="3.45"/><circle cx="72.4" cy="326.6" r="3.45"/><circle cx="73.1" cy="325.5" r="3.45"/><circle cx="73.7" cy="324.5" r="3.45"/><circle cx="74.4" cy="323.4" r="3.45"/><circle cx="75.1" cy="322.0" r="3.45"/><circle cx="75.8" cy="320.7" r="3.45"/><circle cx="76.4" cy="319.3" r="3.45"/><circle cx="77.1" cy="318.0" r="3.45"/><circle cx="77.8" cy="316.6" r="3.45"/><circle cx="78.5" cy="315.8" r="3.45"/><circle cx="79.1" cy="315.2" r="3.45"/><circle cx="79.8" cy="314.5" r="3.45"/><circle cx="80.5" cy="313.9" r="3.45"/><circle cx="81.2" cy="313.2" r="3.45"/><circle cx="81.8" cy="312.5" r="3.45"/><circle cx="82.5" cy="311.9" r="3.45"/><circle cx="83.2" cy="309.0" r="3.45"/><circle cx="83.9" cy="303.4" r="3.45"/><circle cx="84.5" cy="298.4" r="3.45"/><circle cx="85.2" cy="286.3" r="3.45"/><circle cx="85.9" cy="276.4" r="3.45"/><circle cx="86.6" cy="272.8" r="3.45"/><circle cx="87.2" cy="272.0" r="3.45"/><circle cx="87.9" cy="271.3" r="3.45"/><circle cx="88.6" cy="270.6" r="3.45"/><circle cx="89.2" cy="270.2" r="3.45"/><circle cx="89.9" cy="269.8" r="3.45"/><circle cx="90.6" cy="269.5" r="3.45"/><circle cx="91.3" cy="269.1" r="3.45"/><circle cx="91.9" cy="268.4" r="3.45"/><circle cx="92.6" cy="267.5" r="3.45"/><circle cx="93.3" cy="266.6" r="3.45"/><circle cx="94.0" cy="265.7" r="3.45"/><circle cx="94.6" cy="264.8" r="3.45"/><circle cx="95.3" cy="263.8" r="3.45"/><circle cx="96.0" cy="262.9" r="3.45"/><circle cx="96.7" cy="261.9" r="3.45"/><circle cx="97.3" cy="261.0" r="3.45"/><circle cx="98.0" cy="260.0" r="3.45"/><circle cx="98.7" cy="259.1" r="3.45"/><circle cx="99.4" cy="258.1" r="3.45"/><circle cx="100.0" cy="258.6" r="3.45"/><circle cx="100.7" cy="255.1" r="3.45"/><circle cx="101.4" cy="255.1" r="3.45"/><circle cx="102.1" cy="255.1" r="3.45"/><circle cx="102.7" cy="255.1" r="3.45"/><circle cx="103.4" cy="251.6" r="3.45"/><circle cx="104.1" cy="251.6" r="3.45"/><circle cx="104.7" cy="251.6" r="3.45"/><circle cx="105.4" cy="251.6" r="3.45"/><circle cx="106.1" cy="251.6" r="3.45"/><circle cx="106.8" cy="251.6" r="3.45"/><circle cx="107.4" cy="248.0" r="3.45"/><circle cx="108.1" cy="248.0" r="3.45"/><circle cx="108.8" cy="248.0" r="3.45"/><circle cx="109.5" cy="248.0" r="3.45"/><circle cx="110.1" cy="244.5" r="3.45"/><circle cx="110.8" cy="244.5" r="3.45"/><circle cx="111.5" cy="244.5" r="3.45"/><circle cx="112.2" cy="244.5" r="3.45"/><circle cx="112.8" cy="241.0" r="3.45"/><circle cx="113.5" cy="241.0" r="3.45"/><circle cx="114.2" cy="241.0" r="3.45"/><circle cx="114.9" cy="237.4" r="3.45"/><circle cx="115.5" cy="237.4" r="3.45"/><circle cx="116.2" cy="237.4" r="3.45"/><circle cx="116.9" cy="233.9" r="3.45"/><circle cx="117.6" cy="233.9" r="3.45"/><circle cx="118.2" cy="233.9" r="3.45"/><circle cx="118.9" cy="233.9" r="3.45"/><circle cx="119.6" cy="230.4" r="3.45"/><circle cx="120.3" cy="230.4" r="3.45"/><circle cx="120.9" cy="230.4" r="3.45"/><circle cx="121.6" cy="230.4" r="3.45"/><circle cx="122.3" cy="230.4" r="3.45"/><circle cx="122.9" cy="230.4" r="3.45"/><circle cx="123.6" cy="230.4" r="3.45"/><circle cx="124.3" cy="230.4" r="3.45"/><circle cx="125.0" cy="230.4" r="3.45"/><circle cx="125.6" cy="230.4" r="3.45"/><circle cx="126.3" cy="230.4" r="3.45"/><circle cx="127.0" cy="230.4" r="3.45"/><circle cx="127.7" cy="230.4" r="3.45"/><circle cx="128.3" cy="230.4" r="3.45"/><circle cx="129.0" cy="230.4" r="3.45"/><circle cx="129.7" cy="230.4" r="3.45"/><circle cx="130.4" cy="230.4" r="3.45"/><circle cx="131.0" cy="230.4" r="3.45"/><circle cx="131.7" cy="230.4" r="3.45"/><circle cx="132.4" cy="230.4" r="3.45"/><circle cx="133.1" cy="230.4" r="3.45"/><circle cx="133.7" cy="230.4" r="3.45"/><circle cx="134.4" cy="230.4" r="3.45"/><circle cx="135.1" cy="230.4" r="3.45"/><circle cx="135.8" cy="230.4" r="3.45"/><circle cx="136.4" cy="230.4" r="3.45"/><circle cx="137.1" cy="230.4" r="3.45"/><circle cx="137.8" cy="230.4" r="3.45"/><circle cx="138.4" cy="230.4" r="3.45"/><circle cx="139.1" cy="230.4" r="3.45"/><circle cx="139.8" cy="230.4" r="3.45"/><circle cx="140.5" cy="226.8" r="3.45"/><circle cx="141.1" cy="226.8" r="3.45"/><circle cx="141.8" cy="226.8" r="3.45"/><circle cx="142.5" cy="223.3" r="3.45"/><circle cx="143.2" cy="223.3" r="3.45"/><circle cx="143.8" cy="223.3" r="3.45"/><circle cx="144.5" cy="223.3" r="3.45"/><circle cx="145.2" cy="223.3" r="3.45"/><circle cx="145.9" cy="223.3" r="3.45"/><circle cx="146.5" cy="223.3" r="3.45"/><circle cx="147.2" cy="223.3" r="3.45"/><circle cx="147.9" cy="223.3" r="3.45"/><circle cx="148.6" cy="226.8" r="3.45"/><circle cx="149.2" cy="226.8" r="3.45"/><circle cx="149.9" cy="226.8" r="3.45"/><circle cx="150.6" cy="230.4" r="3.45"/><circle cx="151.3" cy="230.4" r="3.45"/><circle cx="151.9" cy="226.8" r="3.45"/><circle cx="152.6" cy="226.8" r="3.45"/><circle cx="153.3" cy="223.3" r="3.45"/><circle cx="154.0" cy="223.3" r="3.45"/><circle cx="154.6" cy="219.8" r="3.45"/><circle cx="155.3" cy="219.8" r="3.45"/><circle cx="156.0" cy="219.8" r="3.45"/><circle cx="156.6" cy="219.8" r="3.45"/><circle cx="157.3" cy="219.8" r="3.45"/><circle cx="158.0" cy="216.2" r="3.45"/><circle cx="158.7" cy="216.2" r="3.45"/><circle cx="159.3" cy="216.2" r="3.45"/><circle cx="160.0" cy="216.2" r="3.45"/><circle cx="160.7" cy="216.2" r="3.45"/><circle cx="161.4" cy="216.2" r="3.45"/><circle cx="162.0" cy="216.2" r="3.45"/><circle cx="162.7" cy="216.2" r="3.45"/><circle cx="163.4" cy="212.7" r="3.45"/><circle cx="164.1" cy="212.7" r="3.45"/><circle cx="164.7" cy="212.7" r="3.45"/><circle cx="165.4" cy="212.7" r="3.45"/><circle cx="166.1" cy="212.7" r="3.45"/><circle cx="166.8" cy="212.7" r="3.45"/><circle cx="167.4" cy="212.7" r="3.45"/><circle cx="168.1" cy="212.7" r="3.45"/><circle cx="168.8" cy="212.7" r="3.45"/><circle cx="169.5" cy="212.7" r="3.45"/><circle cx="170.1" cy="212.7" r="3.45"/><circle cx="170.8" cy="212.7" r="3.45"/><circle cx="171.5" cy="212.7" r="3.45"/><circle cx="172.1" cy="212.7" r="3.45"/><circle cx="172.8" cy="216.2" r="3.45"/><circle cx="173.5" cy="216.2" r="3.45"/><circle cx="174.2" cy="216.2" r="3.45"/><circle cx="174.8" cy="216.2" r="3.45"/><circle cx="175.5" cy="219.8" r="3.45"/><circle cx="176.2" cy="219.8" r="3.45"/><circle cx="176.9" cy="219.8" r="3.45"/><circle cx="177.5" cy="219.8" r="3.45"/><circle cx="178.2" cy="219.8" r="3.45"/><circle cx="178.9" cy="219.8" r="3.45"/><circle cx="179.6" cy="219.8" r="3.45"/><circle cx="180.2" cy="219.8" r="3.45"/><circle cx="180.9" cy="219.8" r="3.45"/><circle cx="181.6" cy="219.8" r="3.45"/><circle cx="182.3" cy="219.8" r="3.45"/><circle cx="182.9" cy="219.8" r="3.45"/><circle cx="183.6" cy="219.8" r="3.45"/><circle cx="184.3" cy="219.8" r="3.45"/><circle cx="185.0" cy="219.8" r="3.45"/><circle cx="185.6" cy="219.8" r="3.45"/><circle cx="186.3" cy="219.8" r="3.45"/><circle cx="187.0" cy="219.8" r="3.45"/><circle cx="187.7" cy="219.8" r="3.45"/><circle cx="188.3" cy="216.2" r="3.45"/><circle cx="189.0" cy="216.2" r="3.45"/><circle cx="189.7" cy="216.2" r="3.45"/><circle cx="190.3" cy="216.2" r="3.45"/><circle cx="191.0" cy="212.7" r="3.45"/><circle cx="191.7" cy="212.7" r="3.45"/><circle cx="192.4" cy="212.7" r="3.45"/><circle cx="193.0" cy="212.7" r="3.45"/><circle cx="193.7" cy="209.1" r="3.45"/><circle cx="194.4" cy="209.1" r="3.45"/><circle cx="195.1" cy="209.1" r="3.45"/><circle cx="195.7" cy="205.6" r="3.45"/><circle cx="196.4" cy="205.6" r="3.45"/><circle cx="197.1" cy="205.6" r="3.45"/><circle cx="197.8" cy="202.1" r="3.45"/><circle cx="198.4" cy="202.1" r="3.45"/><circle cx="199.1" cy="202.1" r="3.45"/><circle cx="199.8" cy="202.1" r="3.45"/><circle cx="200.5" cy="202.1" r="3.45"/><circle cx="201.1" cy="202.1" r="3.45"/><circle cx="201.8" cy="202.1" r="3.45"/><circle cx="202.5" cy="202.1" r="3.45"/><circle cx="203.2" cy="202.1" r="3.45"/><circle cx="203.8" cy="202.1" r="3.45"/><circle cx="204.5" cy="202.1" r="3.45"/><circle cx="205.2" cy="202.1" r="3.45"/><circle cx="205.8" cy="202.1" r="3.45"/><circle cx="206.5" cy="202.1" r="3.45"/><circle cx="207.2" cy="202.1" r="3.45"/><circle cx="207.9" cy="202.1" r="3.45"/><circle cx="208.5" cy="202.1" r="3.45"/><circle cx="209.2" cy="202.1" r="3.45"/><circle cx="209.9" cy="202.1" r="3.45"/><circle cx="210.6" cy="202.1" r="3.45"/><circle cx="211.2" cy="198.5" r="3.45"/><circle cx="211.9" cy="198.5" r="3.45"/><circle cx="212.6" cy="195.0" r="3.45"/><circle cx="213.3" cy="195.0" r="3.45"/><circle cx="213.9" cy="195.0" r="3.45"/><circle cx="214.6" cy="198.5" r="3.45"/><circle cx="215.3" cy="198.5" r="3.45"/><circle cx="216.0" cy="198.5" r="3.45"/><circle cx="216.6" cy="198.5" r="3.45"/><circle cx="217.3" cy="202.1" r="3.45"/><circle cx="218.0" cy="202.1" r="3.45"/><circle cx="218.7" cy="202.1" r="3.45"/><circle cx="219.3" cy="202.1" r="3.45"/><circle cx="220.0" cy="202.1" r="3.45"/><circle cx="220.7" cy="202.1" r="3.45"/><circle cx="221.4" cy="202.1" r="3.45"/><circle cx="222.0" cy="202.1" r="3.45"/><circle cx="222.7" cy="202.1" r="3.45"/><circle cx="223.4" cy="202.1" r="3.45"/><circle cx="224.0" cy="202.1" r="3.45"/><circle cx="224.7" cy="202.1" r="3.45"/><circle cx="225.4" cy="202.1" r="3.45"/><circle cx="226.1" cy="202.1" r="3.45"/><circle cx="226.7" cy="202.1" r="3.45"/><circle cx="227.4" cy="202.1" r="3.45"/><circle cx="228.1" cy="202.1" r="3.45"/><circle cx="228.8" cy="202.1" r="3.45"/><circle cx="229.4" cy="202.1" r="3.45"/><circle cx="230.1" cy="202.1" r="3.45"/><circle cx="230.8" cy="202.1" r="3.45"/><circle cx="231.5" cy="202.1" r="3.45"/><circle cx="232.1" cy="202.1" r="3.45"/><circle cx="232.8" cy="202.1" r="3.45"/><circle cx="233.5" cy="202.1" r="3.45"/><circle cx="234.2" cy="202.1" r="3.45"/><circle cx="234.8" cy="202.1" r="3.45"/><circle cx="235.5" cy="202.1" r="3.45"/><circle cx="236.2" cy="202.1" r="3.45"/><circle cx="236.9" cy="202.1" r="3.45"/><circle cx="237.5" cy="202.1" r="3.45"/><circle cx="238.2" cy="202.1" r="3.45"/><circle cx="238.9" cy="202.1" r="3.45"/><circle cx="239.5" cy="202.1" r="3.45"/><circle cx="240.2" cy="202.1" r="3.45"/><circle cx="240.9" cy="202.1" r="3.45"/><circle cx="241.6" cy="202.1" r="3.45"/><circle cx="242.2" cy="202.1" r="3.45"/><circle cx="242.9" cy="202.1" r="3.45"/><circle cx="243.6" cy="202.1" r="3.45"/><circle cx="244.3" cy="202.1" r="3.45"/><circle cx="244.9" cy="202.1" r="3.45"/><circle cx="245.6" cy="205.6" r="3.45"/><circle cx="246.3" cy="205.6" r="3.45"/><circle cx="247.0" cy="205.6" r="3.45"/><circle cx="247.6" cy="205.6" r="3.45"/><circle cx="248.3" cy="205.6" r="3.45"/><circle cx="249.0" cy="205.6" r="3.45"/><circle cx="249.7" cy="205.6" r="3.45"/><circle cx="250.3" cy="205.6" r="3.45"/><circle cx="251.0" cy="205.6" r="3.45"/><circle cx="251.7" cy="205.6" r="3.45"/><circle cx="252.4" cy="205.6" r="3.45"/><circle cx="253.0" cy="205.6" r="3.45"/><circle cx="253.7" cy="205.6" r="3.45"/><circle cx="254.4" cy="202.1" r="3.45"/><circle cx="255.1" cy="202.1" r="3.45"/><circle cx="255.7" cy="202.1" r="3.45"/><circle cx="256.4" cy="202.1" r="3.45"/><circle cx="257.1" cy="205.6" r="3.45"/><circle cx="257.7" cy="205.6" r="3.45"/><circle cx="258.4" cy="205.6" r="3.45"/><circle cx="259.1" cy="205.6" r="3.45"/><circle cx="259.8" cy="205.6" r="3.45"/><circle cx="260.4" cy="202.1" r="3.45"/><circle cx="261.1" cy="202.1" r="3.45"/><circle cx="261.8" cy="202.1" r="3.45"/><circle cx="262.5" cy="202.1" r="3.45"/><circle cx="263.1" cy="202.1" r="3.45"/><circle cx="263.8" cy="202.1" r="3.45"/><circle cx="264.5" cy="202.1" r="3.45"/><circle cx="265.2" cy="202.1" r="3.45"/><circle cx="265.8" cy="202.1" r="3.45"/><circle cx="266.5" cy="202.1" r="3.45"/><circle cx="267.2" cy="202.1" r="3.45"/><circle cx="267.9" cy="202.1" r="3.45"/><circle cx="268.5" cy="202.1" r="3.45"/><circle cx="269.2" cy="202.1" r="3.45"/><circle cx="269.9" cy="202.1" r="3.45"/><circle cx="270.6" cy="202.1" r="3.45"/><circle cx="271.2" cy="202.1" r="3.45"/><circle cx="271.9" cy="202.1" r="3.45"/><circle cx="272.6" cy="202.1" r="3.45"/><circle cx="273.2" cy="202.1" r="3.45"/><circle cx="273.9" cy="202.1" r="3.45"/><circle cx="274.6" cy="198.5" r="3.45"/><circle cx="275.3" cy="198.5" r="3.45"/><circle cx="275.9" cy="198.5" r="3.45"/><circle cx="276.6" cy="198.5" r="3.45"/><circle cx="277.3" cy="195.0" r="3.45"/><circle cx="278.0" cy="195.0" r="3.45"/><circle cx="278.6" cy="195.0" r="3.45"/><circle cx="279.3" cy="195.0" r="3.45"/><circle cx="280.0" cy="195.0" r="3.45"/><circle cx="280.7" cy="195.0" r="3.45"/><circle cx="281.3" cy="198.5" r="3.45"/><circle cx="282.0" cy="198.5" r="3.45"/><circle cx="282.7" cy="202.1" r="3.45"/><circle cx="283.4" cy="202.1" r="3.45"/><circle cx="284.0" cy="205.6" r="3.45"/><circle cx="284.7" cy="209.1" r="3.45"/><circle cx="285.4" cy="209.1" r="3.45"/><circle cx="286.1" cy="209.1" r="3.45"/><circle cx="286.7" cy="209.1" r="3.45"/><circle cx="287.4" cy="209.1" r="3.45"/><circle cx="288.1" cy="212.7" r="3.45"/><circle cx="288.8" cy="212.7" r="3.45"/><circle cx="289.4" cy="212.7" r="3.45"/><circle cx="290.1" cy="212.7" r="3.45"/><circle cx="290.8" cy="212.7" r="3.45"/><circle cx="291.4" cy="216.2" r="3.45"/><circle cx="292.1" cy="216.2" r="3.45"/><circle cx="292.8" cy="216.2" r="3.45"/><circle cx="293.5" cy="216.2" r="3.45"/><circle cx="294.1" cy="216.2" r="3.45"/><circle cx="294.8" cy="216.2" r="3.45"/><circle cx="295.5" cy="216.2" r="3.45"/><circle cx="296.2" cy="216.2" r="3.45"/><circle cx="296.8" cy="216.2" r="3.45"/><circle cx="297.5" cy="216.2" r="3.45"/><circle cx="298.2" cy="216.2" r="3.45"/><circle cx="298.9" cy="219.8" r="3.45"/><circle cx="299.5" cy="219.8" r="3.45"/><circle cx="300.2" cy="223.3" r="3.45"/><circle cx="300.9" cy="223.3" r="3.45"/><circle cx="301.6" cy="226.8" r="3.45"/><circle cx="302.2" cy="226.8" r="3.45"/><circle cx="302.9" cy="226.8" r="3.45"/><circle cx="303.6" cy="226.8" r="3.45"/><circle cx="304.3" cy="226.8" r="3.45"/><circle cx="304.9" cy="226.8" r="3.45"/><circle cx="305.6" cy="226.8" r="3.45"/><circle cx="306.3" cy="226.8" r="3.45"/><circle cx="306.9" cy="226.8" r="3.45"/><circle cx="307.6" cy="226.8" r="3.45"/><circle cx="308.3" cy="226.8" r="3.45"/><circle cx="309.0" cy="226.8" r="3.45"/><circle cx="309.6" cy="226.8" r="3.45"/><circle cx="310.3" cy="226.8" r="3.45"/><circle cx="311.0" cy="226.8" r="3.45"/><circle cx="311.7" cy="230.4" r="3.45"/><circle cx="312.3" cy="230.4" r="3.45"/><circle cx="313.0" cy="230.4" r="3.45"/><circle cx="313.7" cy="230.4" r="3.45"/><circle cx="314.4" cy="230.4" r="3.45"/><circle cx="315.0" cy="230.4" r="3.45"/><circle cx="315.7" cy="233.9" r="3.45"/><circle cx="316.4" cy="233.9" r="3.45"/><circle cx="317.1" cy="233.9" r="3.45"/><circle cx="317.7" cy="233.9" r="3.45"/><circle cx="318.4" cy="237.4" r="3.45"/><circle cx="319.1" cy="241.0" r="3.45"/><circle cx="319.8" cy="241.0" r="3.45"/><circle cx="320.4" cy="241.0" r="3.45"/><circle cx="321.1" cy="241.0" r="3.45"/><circle cx="321.8" cy="241.0" r="3.45"/><circle cx="322.4" cy="241.0" r="3.45"/><circle cx="323.1" cy="241.0" r="3.45"/><circle cx="323.8" cy="241.0" r="3.45"/><circle cx="324.5" cy="241.0" r="3.45"/><circle cx="325.1" cy="237.4" r="3.45"/><circle cx="325.8" cy="237.4" r="3.45"/><circle cx="326.5" cy="233.9" r="3.45"/><circle cx="327.2" cy="233.9" r="3.45"/><circle cx="327.8" cy="230.4" r="3.45"/><circle cx="328.5" cy="230.4" r="3.45"/><circle cx="329.2" cy="230.4" r="3.45"/><circle cx="329.9" cy="230.4" r="3.45"/><circle cx="330.5" cy="230.4" r="3.45"/><circle cx="331.2" cy="230.4" r="3.45"/><circle cx="331.9" cy="230.4" r="3.45"/><circle cx="332.6" cy="230.4" r="3.45"/><circle cx="333.2" cy="230.4" r="3.45"/><circle cx="333.9" cy="230.4" r="3.45"/><circle cx="334.6" cy="230.4" r="3.45"/><circle cx="335.3" cy="230.4" r="3.45"/><circle cx="335.9" cy="230.4" r="3.45"/><circle cx="336.6" cy="230.4" r="3.45"/><circle cx="337.3" cy="230.4" r="3.45"/><circle cx="338.0" cy="230.4" r="3.45"/><circle cx="338.6" cy="230.4" r="3.45"/><circle cx="339.3" cy="233.9" r="3.45"/><circle cx="340.0" cy="233.9" r="3.45"/><circle cx="340.6" cy="233.9" r="3.45"/><circle cx="341.3" cy="233.9" r="3.45"/><circle cx="342.0" cy="233.9" r="3.45"/><circle cx="342.7" cy="233.9" r="3.45"/><circle cx="343.3" cy="233.9" r="3.45"/><circle cx="344.0" cy="233.9" r="3.45"/><circle cx="344.7" cy="233.9" r="3.45"/><circle cx="345.4" cy="237.4" r="3.45"/><circle cx="346.0" cy="237.4" r="3.45"/><circle cx="346.7" cy="237.4" r="3.45"/><circle cx="347.4" cy="241.0" r="3.45"/><circle cx="348.1" cy="241.0" r="3.45"/><circle cx="348.7" cy="241.0" r="3.45"/><circle cx="349.4" cy="241.0" r="3.45"/><circle cx="350.1" cy="241.0" r="3.45"/><circle cx="350.8" cy="241.0" r="3.45"/><circle cx="351.4" cy="241.0" r="3.45"/><circle cx="352.1" cy="241.0" r="3.45"/><circle cx="352.8" cy="241.0" r="3.45"/><circle cx="353.5" cy="241.0" r="3.45"/><circle cx="354.1" cy="241.0" r="3.45"/><circle cx="354.8" cy="241.0" r="3.45"/><circle cx="355.5" cy="241.0" r="3.45"/><circle cx="356.1" cy="241.0" r="3.45"/><circle cx="356.8" cy="241.0" r="3.45"/><circle cx="357.5" cy="241.0" r="3.45"/><circle cx="358.2" cy="241.0" r="3.45"/><circle cx="358.8" cy="241.0" r="3.45"/><circle cx="359.5" cy="241.0" r="3.45"/><circle cx="360.2" cy="241.0" r="3.45"/><circle cx="360.9" cy="237.4" r="3.45"/><circle cx="361.5" cy="237.4" r="3.45"/><circle cx="362.2" cy="237.4" r="3.45"/><circle cx="362.9" cy="237.4" r="3.45"/><circle cx="363.6" cy="237.4" r="3.45"/><circle cx="364.2" cy="237.4" r="3.45"/><circle cx="364.9" cy="237.4" r="3.45"/><circle cx="365.6" cy="237.4" r="3.45"/><circle cx="366.3" cy="237.4" r="3.45"/><circle cx="366.9" cy="237.4" r="3.45"/><circle cx="367.6" cy="237.4" r="3.45"/><circle cx="368.3" cy="241.0" r="3.45"/><circle cx="369.0" cy="241.0" r="3.45"/><circle cx="369.6" cy="244.5" r="3.45"/><circle cx="370.3" cy="248.0" r="3.45"/><circle cx="371.0" cy="248.0" r="3.45"/><circle cx="371.7" cy="248.0" r="3.45"/><circle cx="372.3" cy="248.0" r="3.45"/><circle cx="373.0" cy="248.0" r="3.45"/><circle cx="373.7" cy="248.0" r="3.45"/><circle cx="374.3" cy="244.5" r="3.45"/><circle cx="375.0" cy="244.5" r="3.45"/><circle cx="375.7" cy="241.0" r="3.45"/><circle cx="376.4" cy="241.0" r="3.45"/><circle cx="377.0" cy="241.0" r="3.45"/><circle cx="377.7" cy="244.5" r="3.45"/><circle cx="378.4" cy="244.5" r="3.45"/><circle cx="379.1" cy="244.5" r="3.45"/><circle cx="379.7" cy="244.5" r="3.45"/><circle cx="380.4" cy="248.0" r="3.45"/><circle cx="381.1" cy="248.0" r="3.45"/><circle cx="381.8" cy="248.0" r="3.45"/><circle cx="382.4" cy="248.0" r="3.45"/><circle cx="383.1" cy="248.0" r="3.45"/><circle cx="383.8" cy="248.0" r="3.45"/><circle cx="384.5" cy="248.0" r="3.45"/><circle cx="385.1" cy="248.0" r="3.45"/><circle cx="385.8" cy="248.0" r="3.45"/><circle cx="386.5" cy="248.0" r="3.45"/><circle cx="387.2" cy="248.0" r="3.45"/><circle cx="387.8" cy="248.0" r="3.45"/><circle cx="388.5" cy="248.0" r="3.45"/><circle cx="389.2" cy="248.0" r="3.45"/><circle cx="389.8" cy="248.0" r="3.45"/><circle cx="390.5" cy="244.5" r="3.45"/><circle cx="391.2" cy="244.5" r="3.45"/><circle cx="391.9" cy="241.0" r="3.45"/><circle cx="392.5" cy="241.0" r="3.45"/><circle cx="393.2" cy="241.0" r="3.45"/><circle cx="393.9" cy="237.4" r="3.45"/><circle cx="394.6" cy="237.4" r="3.45"/><circle cx="395.2" cy="237.4" r="3.45"/><circle cx="395.9" cy="233.9" r="3.45"/><circle cx="396.6" cy="233.9" r="3.45"/><circle cx="397.3" cy="233.9" r="3.45"/><circle cx="397.9" cy="230.4" r="3.45"/><circle cx="398.6" cy="230.4" r="3.45"/><circle cx="399.3" cy="230.4" r="3.45"/><circle cx="400.0" cy="230.4" r="3.45"/><circle cx="400.6" cy="230.4" r="3.45"/><circle cx="401.3" cy="230.4" r="3.45"/><circle cx="402.0" cy="230.4" r="3.45"/><circle cx="402.7" cy="230.4" r="3.45"/><circle cx="403.3" cy="230.4" r="3.45"/><circle cx="404.0" cy="226.8" r="3.45"/><circle cx="404.7" cy="226.8" r="3.45"/><circle cx="405.4" cy="226.8" r="3.45"/><circle cx="406.0" cy="223.3" r="3.45"/><circle cx="406.7" cy="223.3" r="3.45"/><circle cx="407.4" cy="223.3" r="3.45"/><circle cx="408.0" cy="223.3" r="3.45"/><circle cx="408.7" cy="223.3" r="3.45"/><circle cx="409.4" cy="223.3" r="3.45"/><circle cx="410.1" cy="223.3" r="3.45"/><circle cx="410.7" cy="223.3" r="3.45"/><circle cx="411.4" cy="223.3" r="3.45"/><circle cx="412.1" cy="223.3" r="3.45"/><circle cx="412.8" cy="223.3" r="3.45"/><circle cx="413.4" cy="226.8" r="3.45"/><circle cx="414.1" cy="226.8" r="3.45"/><circle cx="414.8" cy="226.8" r="3.45"/><circle cx="415.5" cy="226.8" r="3.45"/><circle cx="416.1" cy="230.4" r="3.45"/><circle cx="416.8" cy="230.4" r="3.45"/><circle cx="417.5" cy="230.4" r="3.45"/><circle cx="418.2" cy="230.4" r="3.45"/><circle cx="418.8" cy="226.8" r="3.45"/><circle cx="419.5" cy="226.8" r="3.45"/><circle cx="420.2" cy="226.8" r="3.45"/><circle cx="420.9" cy="223.3" r="3.45"/><circle cx="421.5" cy="223.3" r="3.45"/><circle cx="422.2" cy="223.3" r="3.45"/><circle cx="422.9" cy="223.3" r="3.45"/><circle cx="423.5" cy="223.3" r="3.45"/><circle cx="424.2" cy="223.3" r="3.45"/><circle cx="424.9" cy="223.3" r="3.45"/><circle cx="425.6" cy="223.3" r="3.45"/><circle cx="426.2" cy="226.8" r="3.45"/><circle cx="426.9" cy="226.8" r="3.45"/><circle cx="427.6" cy="230.4" r="3.45"/><circle cx="428.3" cy="230.4" r="3.45"/><circle cx="428.9" cy="230.4" r="3.45"/><circle cx="429.6" cy="230.4" r="3.45"/><circle cx="430.3" cy="230.4" r="3.45"/><circle cx="431.0" cy="230.4" r="3.45"/><circle cx="431.6" cy="230.4" r="3.45"/><circle cx="432.3" cy="230.4" r="3.45"/><circle cx="433.0" cy="230.4" r="3.45"/><circle cx="433.7" cy="230.4" r="3.45"/><circle cx="434.3" cy="230.4" r="3.45"/><circle cx="435.0" cy="226.8" r="3.45"/><circle cx="435.7" cy="226.8" r="3.45"/><circle cx="436.4" cy="223.3" r="3.45"/><circle cx="437.0" cy="223.3" r="3.45"/><circle cx="437.7" cy="223.3" r="3.45"/><circle cx="438.4" cy="223.3" r="3.45"/><circle cx="439.1" cy="223.3" r="3.45"/><circle cx="439.7" cy="223.3" r="3.45"/><circle cx="440.4" cy="223.3" r="3.45"/><circle cx="441.1" cy="223.3" r="3.45"/><circle cx="441.7" cy="223.3" r="3.45"/><circle cx="442.4" cy="226.8" r="3.45"/><circle cx="443.1" cy="226.8" r="3.45"/><circle cx="443.8" cy="226.8" r="3.45"/><circle cx="444.4" cy="230.4" r="3.45"/><circle cx="445.1" cy="233.9" r="3.45"/><circle cx="445.8" cy="237.4" r="3.45"/><circle cx="446.5" cy="237.4" r="3.45"/><circle cx="447.1" cy="241.0" r="3.45"/><circle cx="447.8" cy="244.5" r="3.45"/><circle cx="448.5" cy="248.0" r="3.45"/><circle cx="449.2" cy="251.6" r="3.45"/><circle cx="449.8" cy="251.6" r="3.45"/><circle cx="450.5" cy="251.6" r="3.45"/><circle cx="451.2" cy="251.6" r="3.45"/><circle cx="451.9" cy="248.0" r="3.45"/><circle cx="452.5" cy="248.0" r="3.45"/><circle cx="453.2" cy="248.0" r="3.45"/><circle cx="453.9" cy="248.0" r="3.45"/><circle cx="454.6" cy="248.0" r="3.45"/><circle cx="455.2" cy="248.0" r="3.45"/><circle cx="455.9" cy="248.0" r="3.45"/><circle cx="456.6" cy="248.0" r="3.45"/><circle cx="457.2" cy="248.0" r="3.45"/><circle cx="457.9" cy="251.6" r="3.45"/><circle cx="458.6" cy="251.6" r="3.45"/><circle cx="459.3" cy="255.1" r="3.45"/><circle cx="459.9" cy="258.6" r="3.45"/><circle cx="460.6" cy="258.6" r="3.45"/><circle cx="461.3" cy="262.2" r="3.45"/><circle cx="462.0" cy="265.7" r="3.45"/><circle cx="462.6" cy="265.7" r="3.45"/><circle cx="463.3" cy="269.2" r="3.45"/><circle cx="464.0" cy="272.8" r="3.45"/><circle cx="464.7" cy="272.8" r="3.45"/><circle cx="465.3" cy="276.3" r="3.45"/><circle cx="466.0" cy="279.8" r="3.45"/><circle cx="466.7" cy="279.8" r="3.45"/><circle cx="467.4" cy="283.4" r="3.45"/><circle cx="468.0" cy="283.4" r="3.45"/><circle cx="468.7" cy="286.9" r="3.45"/><circle cx="469.4" cy="290.5" r="3.45"/><circle cx="470.1" cy="290.5" r="3.45"/><circle cx="470.7" cy="294.0" r="3.45"/><circle cx="471.4" cy="294.0" r="3.45"/><circle cx="472.1" cy="297.5" r="3.45"/><circle cx="472.8" cy="297.5" r="3.45"/><circle cx="473.4" cy="294.0" r="3.45"/><circle cx="474.1" cy="294.0" r="3.45"/><circle cx="474.8" cy="294.0" r="3.45"/><circle cx="475.4" cy="290.5" r="3.45"/><circle cx="476.1" cy="290.5" r="3.45"/><circle cx="476.8" cy="286.9" r="3.45"/><circle cx="477.5" cy="286.9" r="3.45"/><circle cx="478.1" cy="283.4" r="3.45"/><circle cx="478.8" cy="283.4" r="3.45"/><circle cx="479.5" cy="279.8" r="3.45"/><circle cx="480.2" cy="279.8" r="3.45"/><circle cx="480.8" cy="276.3" r="3.45"/><circle cx="481.5" cy="276.3" r="3.45"/><circle cx="482.2" cy="272.8" r="3.45"/><circle cx="482.9" cy="272.8" r="3.45"/><circle cx="483.5" cy="269.2" r="3.45"/><circle cx="484.2" cy="265.7" r="3.45"/><circle cx="484.9" cy="265.7" r="3.45"/><circle cx="485.6" cy="262.2" r="3.45"/><circle cx="486.2" cy="262.2" r="3.45"/><circle cx="486.9" cy="262.2" r="3.45"/><circle cx="487.6" cy="262.2" r="3.45"/><circle cx="488.3" cy="262.2" r="3.45"/><circle cx="488.9" cy="262.2" r="3.45"/><circle cx="489.6" cy="262.2" r="3.45"/><circle cx="490.3" cy="262.2" r="3.45"/><circle cx="490.9" cy="262.2" r="3.45"/><circle cx="491.6" cy="262.2" r="3.45"/><circle cx="492.3" cy="262.2" r="3.45"/><circle cx="493.0" cy="258.6" r="3.45"/><circle cx="493.6" cy="258.6" r="3.45"/><circle cx="494.3" cy="255.1" r="3.45"/><circle cx="495.0" cy="255.1" r="3.45"/><circle cx="495.7" cy="255.1" r="3.45"/><circle cx="496.3" cy="255.1" r="3.45"/><circle cx="497.0" cy="255.1" r="3.45"/><circle cx="497.7" cy="255.1" r="3.45"/><circle cx="498.4" cy="255.1" r="3.45"/><circle cx="499.0" cy="255.1" r="3.45"/><circle cx="499.7" cy="258.6" r="3.45"/><circle cx="500.4" cy="262.2" r="3.45"/><circle cx="501.1" cy="262.2" r="3.45"/><circle cx="501.7" cy="262.2" r="3.45"/><circle cx="502.4" cy="258.6" r="3.45"/><circle cx="503.1" cy="258.6" r="3.45"/><circle cx="503.8" cy="258.6" r="3.45"/><circle cx="504.4" cy="255.1" r="3.45"/><circle cx="505.1" cy="255.1" r="3.45"/><circle cx="505.8" cy="251.6" r="3.45"/><circle cx="506.5" cy="251.6" r="3.45"/><circle cx="507.1" cy="248.0" r="3.45"/><circle cx="507.8" cy="248.0" r="3.45"/><circle cx="508.5" cy="248.0" r="3.45"/><circle cx="509.1" cy="248.0" r="3.45"/><circle cx="509.8" cy="248.0" r="3.45"/><circle cx="510.5" cy="248.0" r="3.45"/><circle cx="511.2" cy="251.6" r="3.45"/><circle cx="511.8" cy="255.1" r="3.45"/><circle cx="512.5" cy="258.6" r="3.45"/><circle cx="513.2" cy="262.2" r="3.45"/><circle cx="513.9" cy="262.2" r="3.45"/><circle cx="514.5" cy="262.2" r="3.45"/><circle cx="515.2" cy="262.2" r="3.45"/><circle cx="515.9" cy="262.2" r="3.45"/><circle cx="516.6" cy="262.2" r="3.45"/><circle cx="517.2" cy="262.2" r="3.45"/><circle cx="517.9" cy="258.6" r="3.45"/><circle cx="518.6" cy="255.1" r="3.45"/><circle cx="519.3" cy="251.6" r="3.45"/><circle cx="519.9" cy="251.6" r="3.45"/><circle cx="520.6" cy="248.0" r="3.45"/><circle cx="521.3" cy="248.0" r="3.45"/><circle cx="522.0" cy="248.0" r="3.45"/><circle cx="522.6" cy="248.0" r="3.45"/><circle cx="523.3" cy="248.0" r="3.45"/><circle cx="524.0" cy="248.0" r="3.45"/><circle cx="524.6" cy="248.0" r="3.45"/><circle cx="525.3" cy="248.0" r="3.45"/><circle cx="526.0" cy="248.0" r="3.45"/><circle cx="526.7" cy="248.0" r="3.45"/><circle cx="527.3" cy="248.0" r="3.45"/><circle cx="528.0" cy="248.0" r="3.45"/><circle cx="528.7" cy="248.0" r="3.45"/><circle cx="529.4" cy="248.0" r="3.45"/><circle cx="530.0" cy="248.0" r="3.45"/><circle cx="530.7" cy="248.0" r="3.45"/><circle cx="531.4" cy="251.6" r="3.45"/><circle cx="532.1" cy="251.6" r="3.45"/><circle cx="532.7" cy="251.6" r="3.45"/><circle cx="533.4" cy="251.6" r="3.45"/><circle cx="534.1" cy="251.6" r="3.45"/><circle cx="534.8" cy="248.0" r="3.45"/><circle cx="535.4" cy="248.0" r="3.45"/><circle cx="536.1" cy="248.0" r="3.45"/><circle cx="536.8" cy="244.5" r="3.45"/><circle cx="537.5" cy="244.5" r="3.45"/><circle cx="538.1" cy="244.5" r="3.45"/><circle cx="538.8" cy="244.5" r="3.45"/><circle cx="539.5" cy="244.5" r="3.45"/><circle cx="540.2" cy="244.5" r="3.45"/><circle cx="540.8" cy="244.5" r="3.45"/><circle cx="541.5" cy="241.0" r="3.45"/><circle cx="542.2" cy="241.0" r="3.45"/><circle cx="542.8" cy="241.0" r="3.45"/><circle cx="543.5" cy="241.0" r="3.45"/><circle cx="544.2" cy="241.0" r="3.45"/><circle cx="544.9" cy="241.0" r="3.45"/><circle cx="545.5" cy="241.0" r="3.45"/><circle cx="546.2" cy="241.0" r="3.45"/><circle cx="546.9" cy="237.4" r="3.45"/><circle cx="547.6" cy="237.4" r="3.45"/><circle cx="548.2" cy="237.4" r="3.45"/><circle cx="548.9" cy="237.4" r="3.45"/><circle cx="549.6" cy="233.9" r="3.45"/><circle cx="550.3" cy="233.9" r="3.45"/><circle cx="550.9" cy="233.9" r="3.45"/><circle cx="551.6" cy="233.9" r="3.45"/><circle cx="552.3" cy="233.9" r="3.45"/><circle cx="553.0" cy="233.9" r="3.45"/><circle cx="553.6" cy="230.4" r="3.45"/><circle cx="554.3" cy="230.4" r="3.45"/><circle cx="555.0" cy="230.4" r="3.45"/><circle cx="555.7" cy="230.4" r="3.45"/><circle cx="556.3" cy="230.4" r="3.45"/><circle cx="557.0" cy="233.9" r="3.45"/><circle cx="557.7" cy="237.4" r="3.45"/><circle cx="558.3" cy="237.4" r="3.45"/><circle cx="559.0" cy="241.0" r="3.45"/><circle cx="559.7" cy="244.5" r="3.45"/><circle cx="560.4" cy="244.5" r="3.45"/><circle cx="561.0" cy="244.5" r="3.45"/><circle cx="561.7" cy="244.5" r="3.45"/><circle cx="562.4" cy="241.0" r="3.45"/><circle cx="563.1" cy="241.0" r="3.45"/><circle cx="563.7" cy="241.0" r="3.45"/><circle cx="564.4" cy="241.0" r="3.45"/><circle cx="565.1" cy="241.0" r="3.45"/><circle cx="565.8" cy="241.0" r="3.45"/><circle cx="566.4" cy="241.0" r="3.45"/><circle cx="567.1" cy="241.0" r="3.45"/><circle cx="567.8" cy="244.5" r="3.45"/><circle cx="568.5" cy="244.5" r="3.45"/><circle cx="569.1" cy="244.5" r="3.45"/><circle cx="569.8" cy="244.5" r="3.45"/><circle cx="570.5" cy="244.5" r="3.45"/><circle cx="571.2" cy="244.5" r="3.45"/><circle cx="571.8" cy="244.5" r="3.45"/><circle cx="572.5" cy="244.5" r="3.45"/><circle cx="573.2" cy="244.5" r="3.45"/><circle cx="573.9" cy="244.5" r="3.45"/><circle cx="574.5" cy="244.5" r="3.45"/><circle cx="575.2" cy="244.5" r="3.45"/><circle cx="575.9" cy="244.5" r="3.45"/><circle cx="576.5" cy="241.0" r="3.45"/><circle cx="577.2" cy="241.0" r="3.45"/><circle cx="577.9" cy="241.0" r="3.45"/><circle cx="578.6" cy="241.0" r="3.45"/><circle cx="579.2" cy="241.0" r="3.45"/><circle cx="579.9" cy="241.0" r="3.45"/><circle cx="580.6" cy="241.0" r="3.45"/><circle cx="581.3" cy="241.0" r="3.45"/><circle cx="581.9" cy="244.5" r="3.45"/><circle cx="582.6" cy="244.5" r="3.45"/><circle cx="583.3" cy="248.0" r="3.45"/><circle cx="584.0" cy="248.0" r="3.45"/><circle cx="584.6" cy="248.0" r="3.45"/><circle cx="585.3" cy="248.0" r="3.45"/><circle cx="586.0" cy="248.0" r="3.45"/><circle cx="586.7" cy="248.0" r="3.45"/><circle cx="587.3" cy="248.0" r="3.45"/><circle cx="588.0" cy="248.0" r="3.45"/><circle cx="588.7" cy="248.0" r="3.45"/><circle cx="589.4" cy="248.0" r="3.45"/><circle cx="590.0" cy="248.0" r="3.45"/><circle cx="590.7" cy="248.0" r="3.45"/><circle cx="591.4" cy="248.0" r="3.45"/><circle cx="592.0" cy="248.0" r="3.45"/><circle cx="592.7" cy="248.0" r="3.45"/><circle cx="593.4" cy="251.6" r="3.45"/><circle cx="594.1" cy="255.1" r="3.45"/><circle cx="594.7" cy="258.6" r="3.45"/><circle cx="595.4" cy="262.2" r="3.45"/><circle cx="596.1" cy="262.2" r="3.45"/><circle cx="596.8" cy="265.7" r="3.45"/><circle cx="597.4" cy="265.7" r="3.45"/><circle cx="598.1" cy="269.2" r="3.45"/><circle cx="598.8" cy="269.2" r="3.45"/><circle cx="599.5" cy="269.2" r="3.45"/><circle cx="600.1" cy="269.2" r="3.45"/><circle cx="600.8" cy="265.7" r="3.45"/><circle cx="601.5" cy="265.7" r="3.45"/><circle cx="602.2" cy="262.2" r="3.45"/><circle cx="602.8" cy="262.2" r="3.45"/><circle cx="603.5" cy="262.2" r="3.45"/><circle cx="604.2" cy="258.6" r="3.45"/><circle cx="604.9" cy="258.6" r="3.45"/><circle cx="605.5" cy="258.6" r="3.45"/><circle cx="606.2" cy="255.1" r="3.45"/><circle cx="606.9" cy="255.1" r="3.45"/><circle cx="607.6" cy="255.1" r="3.45"/><circle cx="608.2" cy="255.1" r="3.45"/><circle cx="608.9" cy="255.1" r="3.45"/><circle cx="609.6" cy="258.6" r="3.45"/><circle cx="610.2" cy="258.6" r="3.45"/><circle cx="610.9" cy="258.6" r="3.45"/><circle cx="611.6" cy="258.6" r="3.45"/><circle cx="612.3" cy="258.6" r="3.45"/><circle cx="612.9" cy="258.6" r="3.45"/><circle cx="613.6" cy="255.1" r="3.45"/><circle cx="614.3" cy="255.1" r="3.45"/><circle cx="615.0" cy="251.6" r="3.45"/><circle cx="615.6" cy="251.6" r="3.45"/><circle cx="616.3" cy="251.6" r="3.45"/><circle cx="617.0" cy="248.0" r="3.45"/><circle cx="617.7" cy="248.0" r="3.45"/><circle cx="618.3" cy="244.5" r="3.45"/><circle cx="619.0" cy="241.0" r="3.45"/><circle cx="619.7" cy="237.4" r="3.45"/><circle cx="620.4" cy="233.9" r="3.45"/><circle cx="621.0" cy="230.4" r="3.45"/><circle cx="621.7" cy="226.8" r="3.45"/><circle cx="622.4" cy="226.8" r="3.45"/><circle cx="623.1" cy="223.3" r="3.45"/><circle cx="623.7" cy="219.8" r="3.45"/><circle cx="624.4" cy="219.8" r="3.45"/><circle cx="625.1" cy="216.2" r="3.45"/><circle cx="625.7" cy="212.7" r="3.45"/><circle cx="626.4" cy="212.7" r="3.45"/><circle cx="627.1" cy="212.7" r="3.45"/><circle cx="627.8" cy="216.2" r="3.45"/><circle cx="628.4" cy="216.2" r="3.45"/><circle cx="629.1" cy="216.2" r="3.45"/><circle cx="629.8" cy="216.2" r="3.45"/><circle cx="630.5" cy="216.2" r="3.45"/><circle cx="631.1" cy="216.2" r="3.45"/><circle cx="631.8" cy="216.2" r="3.45"/><circle cx="632.5" cy="216.2" r="3.45"/><circle cx="633.2" cy="216.2" r="3.45"/><circle cx="633.8" cy="216.2" r="3.45"/><circle cx="634.5" cy="216.2" r="3.45"/><circle cx="635.2" cy="216.2" r="3.45"/><circle cx="635.9" cy="219.8" r="3.45"/><circle cx="636.5" cy="219.8" r="3.45"/><circle cx="637.2" cy="219.8" r="3.45"/><circle cx="637.9" cy="223.3" r="3.45"/><circle cx="638.6" cy="223.3" r="3.45"/><circle cx="639.2" cy="226.8" r="3.45"/><circle cx="639.9" cy="226.8" r="3.45"/><circle cx="640.6" cy="226.8" r="3.45"/><circle cx="641.3" cy="226.8" r="3.45"/><circle cx="641.9" cy="226.8" r="3.45"/><circle cx="642.6" cy="226.8" r="3.45"/><circle cx="643.3" cy="226.8" r="3.45"/><circle cx="643.9" cy="226.8" r="3.45"/><circle cx="644.6" cy="226.8" r="3.45"/><circle cx="645.3" cy="226.8" r="3.45"/><circle cx="646.0" cy="226.8" r="3.45"/><circle cx="646.6" cy="230.4" r="3.45"/><circle cx="647.3" cy="230.4" r="3.45"/><circle cx="648.0" cy="230.4" r="3.45"/><circle cx="648.7" cy="233.9" r="3.45"/><circle cx="649.3" cy="233.9" r="3.45"/><circle cx="650.0" cy="233.9" r="3.45"/><circle cx="650.7" cy="233.9" r="3.45"/><circle cx="651.4" cy="233.9" r="3.45"/><circle cx="652.0" cy="233.9" r="3.45"/><circle cx="652.7" cy="233.9" r="3.45"/><circle cx="653.4" cy="230.4" r="3.45"/><circle cx="654.1" cy="230.4" r="3.45"/><circle cx="654.7" cy="230.4" r="3.45"/><circle cx="655.4" cy="230.4" r="3.45"/><circle cx="656.1" cy="230.4" r="3.45"/><circle cx="656.8" cy="230.4" r="3.45"/><circle cx="657.4" cy="230.4" r="3.45"/><circle cx="658.1" cy="230.4" r="3.45"/><circle cx="658.8" cy="230.4" r="3.45"/><circle cx="659.4" cy="230.4" r="3.45"/><circle cx="660.1" cy="230.4" r="3.45"/><circle cx="660.8" cy="230.4" r="3.45"/><circle cx="661.5" cy="230.4" r="3.45"/><circle cx="662.1" cy="230.4" r="3.45"/><circle cx="662.8" cy="230.4" r="3.45"/><circle cx="663.5" cy="230.4" r="3.45"/><circle cx="664.2" cy="230.4" r="3.45"/><circle cx="664.8" cy="230.4" r="3.45"/><circle cx="665.5" cy="230.4" r="3.45"/><circle cx="666.2" cy="230.4" r="3.45"/><circle cx="666.9" cy="230.4" r="3.45"/><circle cx="667.5" cy="230.4" r="3.45"/><circle cx="668.2" cy="230.4" r="3.45"/><circle cx="668.9" cy="230.4" r="3.45"/><circle cx="669.6" cy="230.4" r="3.45"/><circle cx="670.2" cy="233.9" r="3.45"/><circle cx="670.9" cy="233.9" r="3.45"/><circle cx="671.6" cy="233.9" r="3.45"/><circle cx="672.3" cy="237.4" r="3.45"/><circle cx="672.9" cy="241.0" r="3.45"/><circle cx="673.6" cy="244.5" r="3.45"/><circle cx="674.3" cy="244.5" r="3.45"/><circle cx="675.0" cy="241.0" r="3.45"/><circle cx="675.6" cy="241.0" r="3.45"/><circle cx="676.3" cy="241.0" r="3.45"/><circle cx="677.0" cy="241.0" r="3.45"/><circle cx="677.6" cy="237.4" r="3.45"/><circle cx="678.3" cy="237.4" r="3.45"/><circle cx="679.0" cy="233.9" r="3.45"/><circle cx="679.7" cy="233.9" r="3.45"/><circle cx="680.3" cy="233.9" r="3.45"/><circle cx="681.0" cy="230.4" r="3.45"/><circle cx="681.7" cy="230.4" r="3.45"/><circle cx="682.4" cy="230.4" r="3.45"/><circle cx="683.0" cy="230.4" r="3.45"/><circle cx="683.7" cy="230.4" r="3.45"/><circle cx="684.4" cy="230.4" r="3.45"/><circle cx="685.1" cy="230.4" r="3.45"/><circle cx="685.7" cy="230.4" r="3.45"/><circle cx="686.4" cy="230.4" r="3.45"/><circle cx="687.1" cy="230.4" r="3.45"/><circle cx="687.8" cy="230.4" r="3.45"/><circle cx="688.4" cy="230.4" r="3.45"/><circle cx="689.1" cy="233.9" r="3.45"/><circle cx="689.8" cy="233.9" r="3.45"/><circle cx="690.5" cy="233.9" r="3.45"/><circle cx="691.1" cy="233.9" r="3.45"/><circle cx="691.8" cy="233.9" r="3.45"/><circle cx="692.5" cy="233.9" r="3.45"/><circle cx="693.1" cy="233.9" r="3.45"/><circle cx="693.8" cy="233.9" r="3.45"/><circle cx="694.5" cy="233.9" r="3.45"/><circle cx="695.2" cy="233.9" r="3.45"/><circle cx="695.8" cy="233.9" r="3.45"/><circle cx="696.5" cy="233.9" r="3.45"/><circle cx="697.2" cy="237.4" r="3.45"/><circle cx="697.9" cy="237.4" r="3.45"/><circle cx="698.5" cy="237.4" r="3.45"/><circle cx="699.2" cy="237.4" r="3.45"/><circle cx="699.9" cy="241.0" r="3.45"/><circle cx="700.6" cy="241.0" r="3.45"/><circle cx="701.2" cy="241.0" r="3.45"/><circle cx="701.9" cy="241.0" r="3.45"/><circle cx="702.6" cy="244.5" r="3.45"/><circle cx="703.3" cy="244.5" r="3.45"/><circle cx="703.9" cy="244.5" r="3.45"/><circle cx="704.6" cy="248.0" r="3.45"/><circle cx="705.3" cy="248.0" r="3.45"/><circle cx="706.0" cy="251.6" r="3.45"/><circle cx="706.6" cy="251.6" r="3.45"/><circle cx="707.3" cy="248.0" r="3.45"/><circle cx="708.0" cy="248.0" r="3.45"/><circle cx="708.7" cy="244.5" r="3.45"/><circle cx="709.3" cy="244.5" r="3.45"/><circle cx="710.0" cy="244.5" r="3.45"/><circle cx="710.7" cy="244.5" r="3.45"/><circle cx="711.3" cy="248.0" r="3.45"/><circle cx="712.0" cy="248.0" r="3.45"/><circle cx="712.7" cy="248.0" r="3.45"/><circle cx="713.4" cy="248.0" r="3.45"/><circle cx="714.0" cy="248.0" r="3.45"/><circle cx="714.7" cy="244.5" r="3.45"/><circle cx="715.4" cy="244.5" r="3.45"/><circle cx="716.1" cy="244.5" r="3.45"/><circle cx="716.7" cy="244.5" r="3.45"/><circle cx="717.4" cy="244.5" r="3.45"/><circle cx="718.1" cy="248.0" r="3.45"/><circle cx="718.8" cy="248.0" r="3.45"/><circle cx="719.4" cy="248.0" r="3.45"/><circle cx="720.1" cy="248.0" r="3.45"/><circle cx="720.8" cy="248.0" r="3.45"/><circle cx="721.5" cy="244.5" r="3.45"/><circle cx="722.1" cy="244.5" r="3.45"/><circle cx="722.8" cy="244.5" r="3.45"/><circle cx="723.5" cy="241.0" r="3.45"/><circle cx="724.2" cy="241.0" r="3.45"/><circle cx="724.8" cy="244.5" r="3.45"/><circle cx="725.5" cy="248.0" r="3.45"/><circle cx="726.2" cy="248.0" r="3.45"/><circle cx="726.8" cy="248.0" r="3.45"/><circle cx="727.5" cy="248.0" r="3.45"/><circle cx="728.2" cy="244.5" r="3.45"/><circle cx="728.9" cy="244.5" r="3.45"/><circle cx="729.5" cy="244.5" r="3.45"/><circle cx="730.2" cy="244.5" r="3.45"/><circle cx="730.9" cy="244.5" r="3.45"/><circle cx="731.6" cy="244.5" r="3.45"/><circle cx="732.2" cy="244.5" r="3.45"/><circle cx="732.9" cy="244.5" r="3.45"/><circle cx="733.6" cy="244.5" r="3.45"/><circle cx="734.3" cy="244.5" r="3.45"/><circle cx="734.9" cy="244.5" r="3.45"/><circle cx="735.6" cy="244.5" r="3.45"/><circle cx="736.3" cy="244.5" r="3.45"/><circle cx="737.0" cy="244.5" r="3.45"/><circle cx="737.6" cy="244.5" r="3.45"/><circle cx="738.3" cy="244.5" r="3.45"/><circle cx="739.0" cy="241.0" r="3.45"/><circle cx="739.7" cy="241.0" r="3.45"/><circle cx="740.3" cy="241.0" r="3.45"/><circle cx="741.0" cy="241.0" r="3.45"/><circle cx="741.7" cy="241.0" r="3.45"/><circle cx="742.4" cy="237.4" r="3.45"/><circle cx="743.0" cy="237.4" r="3.45"/><circle cx="743.7" cy="237.4" r="3.45"/><circle cx="744.4" cy="241.0" r="3.45"/><circle cx="745.0" cy="241.0" r="3.45"/><circle cx="745.7" cy="241.0" r="3.45"/><circle cx="746.4" cy="241.0" r="3.45"/><circle cx="747.1" cy="241.0" r="3.45"/><circle cx="747.7" cy="241.0" r="3.45"/><circle cx="748.4" cy="241.0" r="3.45"/><circle cx="749.1" cy="241.0" r="3.45"/><circle cx="749.8" cy="241.0" r="3.45"/><circle cx="750.4" cy="244.5" r="3.45"/><circle cx="751.1" cy="248.0" r="3.45"/><circle cx="751.8" cy="248.0" r="3.45"/><circle cx="752.5" cy="251.6" r="3.45"/><circle cx="753.1" cy="255.1" r="3.45"/><circle cx="753.8" cy="258.6" r="3.45"/><circle cx="754.5" cy="262.2" r="3.45"/><circle cx="755.2" cy="265.7" r="3.45"/><circle cx="755.8" cy="269.2" r="3.45"/><circle cx="756.5" cy="269.2" r="3.45"/><circle cx="757.2" cy="269.2" r="3.45"/><circle cx="757.9" cy="269.2" r="3.45"/><circle cx="758.5" cy="269.2" r="3.45"/><circle cx="759.2" cy="269.2" r="3.45"/><circle cx="759.9" cy="269.2" r="3.45"/><circle cx="760.5" cy="269.2" r="3.45"/><circle cx="761.2" cy="265.7" r="3.45"/><circle cx="761.9" cy="265.7" r="3.45"/><circle cx="762.6" cy="262.2" r="3.45"/><circle cx="763.2" cy="258.6" r="3.45"/><circle cx="763.9" cy="258.6" r="3.45"/><circle cx="764.6" cy="258.6" r="3.45"/><circle cx="765.3" cy="255.1" r="3.45"/><circle cx="765.9" cy="255.1" r="3.45"/><circle cx="766.6" cy="255.1" r="3.45"/><circle cx="767.3" cy="255.1" r="3.45"/><circle cx="768.0" cy="255.1" r="3.45"/><circle cx="768.6" cy="255.1" r="3.45"/><circle cx="769.3" cy="255.1" r="3.45"/><circle cx="770.0" cy="255.1" r="3.45"/><circle cx="770.7" cy="255.1" r="3.45"/><circle cx="771.3" cy="255.1" r="3.45"/><circle cx="772.0" cy="255.1" r="3.45"/><circle cx="772.7" cy="255.1" r="3.45"/><circle cx="773.4" cy="251.6" r="3.45"/><circle cx="774.0" cy="248.0" r="3.45"/><circle cx="774.7" cy="244.5" r="3.45"/><circle cx="775.4" cy="244.5" r="3.45"/><circle cx="776.1" cy="241.0" r="3.45"/><circle cx="776.7" cy="237.4" r="3.45"/><circle cx="777.4" cy="233.9" r="3.45"/><circle cx="778.1" cy="233.9" r="3.45"/><circle cx="778.7" cy="233.9" r="3.45"/><circle cx="779.4" cy="233.9" r="3.45"/><circle cx="780.1" cy="233.9" r="3.45"/><circle cx="780.8" cy="233.9" r="3.45"/><circle cx="781.4" cy="233.9" r="3.45"/><circle cx="782.1" cy="233.9" r="3.45"/><circle cx="782.8" cy="233.9" r="3.45"/><circle cx="783.5" cy="233.9" r="3.45"/><circle cx="784.1" cy="233.9" r="3.45"/><circle cx="784.8" cy="230.4" r="3.45"/><circle cx="785.5" cy="230.4" r="3.45"/><circle cx="786.2" cy="230.4" r="3.45"/><circle cx="786.8" cy="226.8" r="3.45"/><circle cx="787.5" cy="226.8" r="3.45"/><circle cx="788.2" cy="226.8" r="3.45"/><circle cx="788.9" cy="226.8" r="3.45"/><circle cx="789.5" cy="230.4" r="3.45"/><circle cx="790.2" cy="230.4" r="3.45"/><circle cx="790.9" cy="230.4" r="3.45"/><circle cx="791.6" cy="230.4" r="3.45"/><circle cx="792.2" cy="230.4" r="3.45"/><circle cx="792.9" cy="233.9" r="3.45"/><circle cx="793.6" cy="233.9" r="3.45"/><circle cx="794.2" cy="237.4" r="3.45"/><circle cx="794.9" cy="241.0" r="3.45"/><circle cx="795.6" cy="244.5" r="3.45"/><circle cx="796.3" cy="244.5" r="3.45"/><circle cx="796.9" cy="248.0" r="3.45"/><circle cx="797.6" cy="248.0" r="3.45"/><circle cx="798.3" cy="248.0" r="3.45"/><circle cx="799.0" cy="248.0" r="3.45"/><circle cx="799.6" cy="248.0" r="3.45"/><circle cx="800.3" cy="248.0" r="3.45"/><circle cx="801.0" cy="248.0" r="3.45"/><circle cx="801.7" cy="244.5" r="3.45"/><circle cx="802.3" cy="244.5" r="3.45"/><circle cx="803.0" cy="244.5" r="3.45"/><circle cx="803.7" cy="241.0" r="3.45"/><circle cx="804.4" cy="244.5" r="3.45"/><circle cx="805.0" cy="244.5" r="3.45"/><circle cx="805.7" cy="248.0" r="3.45"/><circle cx="806.4" cy="251.6" r="3.45"/><circle cx="807.1" cy="251.6" r="3.45"/><circle cx="807.7" cy="255.1" r="3.45"/><circle cx="808.4" cy="255.1" r="3.45"/><circle cx="809.1" cy="258.6" r="3.45"/><circle cx="809.8" cy="258.6" r="3.45"/><circle cx="810.4" cy="262.2" r="3.45"/><circle cx="811.1" cy="262.2" r="3.45"/><circle cx="811.8" cy="262.2" r="3.45"/><circle cx="812.4" cy="262.2" r="3.45"/><circle cx="813.1" cy="262.2" r="3.45"/><circle cx="813.8" cy="262.2" r="3.45"/><circle cx="814.5" cy="262.2" r="3.45"/><circle cx="815.1" cy="258.6" r="3.45"/><circle cx="815.8" cy="258.6" r="3.45"/><circle cx="816.5" cy="258.6" r="3.45"/><circle cx="817.2" cy="255.1" r="3.45"/><circle cx="817.8" cy="255.1" r="3.45"/><circle cx="818.5" cy="251.6" r="3.45"/><circle cx="819.2" cy="244.5" r="3.45"/><circle cx="819.9" cy="244.5" r="3.45"/><circle cx="820.5" cy="244.5" r="3.45"/><circle cx="821.2" cy="244.5" r="3.45"/><circle cx="821.9" cy="244.5" r="3.45"/><circle cx="822.6" cy="244.5" r="3.45"/><circle cx="823.2" cy="244.5" r="3.45"/><circle cx="823.9" cy="244.5" r="3.45"/><circle cx="824.6" cy="244.5" r="3.45"/><circle cx="825.3" cy="244.5" r="3.45"/><circle cx="825.9" cy="244.5" r="3.45"/><circle cx="826.6" cy="244.5" r="3.45"/><circle cx="827.3" cy="244.5" r="3.45"/><circle cx="827.9" cy="241.0" r="3.45"/><circle cx="828.6" cy="241.0" r="3.45"/><circle cx="829.3" cy="241.0" r="3.45"/><circle cx="830.0" cy="237.4" r="3.45"/><circle cx="830.6" cy="237.4" r="3.45"/><circle cx="831.3" cy="233.9" r="3.45"/><circle cx="832.0" cy="230.4" r="3.45"/><circle cx="832.7" cy="223.3" r="3.45"/><circle cx="833.3" cy="219.8" r="3.45"/><circle cx="834.0" cy="216.2" r="3.45"/><circle cx="834.7" cy="212.7" r="3.45"/><circle cx="835.4" cy="209.1" r="3.45"/><circle cx="836.0" cy="202.1" r="3.45"/><circle cx="836.7" cy="198.5" r="3.45"/><circle cx="837.4" cy="195.0" r="3.45"/><circle cx="838.1" cy="191.5" r="3.45"/><circle cx="838.7" cy="187.9" r="3.45"/><circle cx="839.4" cy="184.4" r="3.45"/><circle cx="840.1" cy="180.9" r="3.45"/><circle cx="840.8" cy="180.9" r="3.45"/><circle cx="841.4" cy="177.3" r="3.45"/><circle cx="842.1" cy="177.3" r="3.45"/><circle cx="842.8" cy="177.3" r="3.45"/><circle cx="843.5" cy="173.8" r="3.45"/><circle cx="844.1" cy="173.8" r="3.45"/><circle cx="844.8" cy="173.8" r="3.45"/><circle cx="845.5" cy="173.8" r="3.45"/><circle cx="846.1" cy="173.8" r="3.45"/><circle cx="846.8" cy="173.8" r="3.45"/><circle cx="847.5" cy="177.3" r="3.45"/><circle cx="848.2" cy="177.3" r="3.45"/><circle cx="848.8" cy="180.9" r="3.45"/><circle cx="849.5" cy="184.4" r="3.45"/><circle cx="850.2" cy="187.9" r="3.45"/><circle cx="850.9" cy="191.5" r="3.45"/><circle cx="851.5" cy="191.5" r="3.45"/><circle cx="852.2" cy="191.5" r="3.45"/><circle cx="852.9" cy="195.0" r="3.45"/><circle cx="853.6" cy="191.5" r="3.45"/><circle cx="854.2" cy="187.9" r="3.45"/><circle cx="854.9" cy="184.4" r="3.45"/><circle cx="855.6" cy="180.9" r="3.45"/><circle cx="856.3" cy="177.3" r="3.45"/><circle cx="856.9" cy="173.8" r="3.45"/><circle cx="857.6" cy="170.3" r="3.45"/><circle cx="858.3" cy="170.3" r="3.45"/><circle cx="859.0" cy="166.7" r="3.45"/><circle cx="859.6" cy="166.7" r="3.45"/><circle cx="860.3" cy="166.7" r="3.45"/><circle cx="861.0" cy="163.2" r="3.45"/><circle cx="861.6" cy="163.2" r="3.45"/><circle cx="862.3" cy="163.2" r="3.45"/><circle cx="863.0" cy="163.2" r="3.45"/><circle cx="863.7" cy="159.7" r="3.45"/><circle cx="864.3" cy="159.7" r="3.45"/><circle cx="865.0" cy="159.7" r="3.45"/><circle cx="865.7" cy="159.7" r="3.45"/><circle cx="866.4" cy="156.1" r="3.45"/><circle cx="867.0" cy="156.1" r="3.45"/><circle cx="867.7" cy="156.1" r="3.45"/><circle cx="868.4" cy="152.6" r="3.45"/><circle cx="869.1" cy="152.6" r="3.45"/><circle cx="869.7" cy="152.6" r="3.45"/><circle cx="870.4" cy="152.6" r="3.45"/><circle cx="871.1" cy="149.1" r="3.45"/><circle cx="871.8" cy="149.1" r="3.45"/><circle cx="872.4" cy="149.1" r="3.45"/><circle cx="873.1" cy="149.1" r="3.45"/><circle cx="873.8" cy="149.1" r="3.45"/><circle cx="874.5" cy="149.1" r="3.45"/><circle cx="875.1" cy="149.1" r="3.45"/><circle cx="875.8" cy="149.1" r="3.45"/><circle cx="876.5" cy="149.1" r="3.45"/><circle cx="877.2" cy="149.1" r="3.45"/><circle cx="877.8" cy="149.1" r="3.45"/><circle cx="878.5" cy="149.1" r="3.45"/><circle cx="879.2" cy="149.1" r="3.45"/><circle cx="879.8" cy="149.1" r="3.45"/><circle cx="880.5" cy="149.1" r="3.45"/><circle cx="881.2" cy="149.1" r="3.45"/><circle cx="881.9" cy="149.1" r="3.45"/><circle cx="882.5" cy="149.1" r="3.45"/><circle cx="883.2" cy="149.1" r="3.45"/><circle cx="883.9" cy="149.1" r="3.45"/><circle cx="884.6" cy="149.1" r="3.45"/><circle cx="885.2" cy="149.1" r="3.45"/><circle cx="885.9" cy="149.1" r="3.45"/><circle cx="886.6" cy="149.1" r="3.45"/><circle cx="887.3" cy="152.6" r="3.45"/><circle cx="887.9" cy="152.6" r="3.45"/><circle cx="888.6" cy="156.1" r="3.45"/><circle cx="889.3" cy="159.7" r="3.45"/><circle cx="890.0" cy="163.2" r="3.45"/><circle cx="890.6" cy="166.7" r="3.45"/><circle cx="891.3" cy="173.8" r="3.45"/><circle cx="892.0" cy="173.8" r="3.45"/><circle cx="892.7" cy="173.8" r="3.45"/><circle cx="893.3" cy="173.8" r="3.45"/><circle cx="894.0" cy="173.8" r="3.45"/><circle cx="894.7" cy="170.3" r="3.45"/><circle cx="895.3" cy="170.3" r="3.45"/><circle cx="896.0" cy="170.3" r="3.45"/><circle cx="896.7" cy="170.3" r="3.45"/><circle cx="897.4" cy="170.3" r="3.45"/><circle cx="898.0" cy="170.3" r="3.45"/><circle cx="898.7" cy="170.3" r="3.45"/><circle cx="899.4" cy="173.8" r="3.45"/><circle cx="900.1" cy="173.8" r="3.45"/><circle cx="900.7" cy="173.8" r="3.45"/><circle cx="901.4" cy="177.3" r="3.45"/><circle cx="902.1" cy="180.9" r="3.45"/><circle cx="902.8" cy="180.9" r="3.45"/><circle cx="903.4" cy="184.4" r="3.45"/><circle cx="904.1" cy="184.4" r="3.45"/><circle cx="904.8" cy="184.4" r="3.45"/><circle cx="905.5" cy="187.9" r="3.45"/><circle cx="906.1" cy="187.9" r="3.45"/><circle cx="906.8" cy="187.9" r="3.45"/><circle cx="907.5" cy="187.9" r="3.45"/><circle cx="908.2" cy="191.5" r="3.45"/><circle cx="908.8" cy="195.0" r="3.45"/><circle cx="909.5" cy="195.0" r="3.45"/><circle cx="910.2" cy="198.5" r="3.45"/><circle cx="910.9" cy="198.5" r="3.45"/><circle cx="911.5" cy="202.1" r="3.45"/><circle cx="912.2" cy="202.1" r="3.45"/><circle cx="912.9" cy="205.6" r="3.45"/><circle cx="913.5" cy="202.1" r="3.45"/><circle cx="914.2" cy="198.5" r="3.45"/><circle cx="914.9" cy="195.0" r="3.45"/><circle cx="915.6" cy="191.5" r="3.45"/><circle cx="916.2" cy="191.5" r="3.45"/><circle cx="916.9" cy="191.5" r="3.45"/><circle cx="917.6" cy="191.5" r="3.45"/><circle cx="918.3" cy="191.5" r="3.45"/><circle cx="918.9" cy="191.5" r="3.45"/><circle cx="919.6" cy="191.5" r="3.45"/><circle cx="920.3" cy="191.5" r="3.45"/><circle cx="921.0" cy="191.5" r="3.45"/><circle cx="921.6" cy="195.0" r="3.45"/><circle cx="922.3" cy="195.0" r="3.45"/><circle cx="923.0" cy="195.0" r="3.45"/><circle cx="923.7" cy="198.5" r="3.45"/><circle cx="924.3" cy="198.5" r="3.45"/><circle cx="925.0" cy="198.5" r="3.45"/><circle cx="925.7" cy="198.5" r="3.45"/><circle cx="926.4" cy="202.1" r="3.45"/><circle cx="927.0" cy="202.1" r="3.45"/><circle cx="927.7" cy="202.1" r="3.45"/><circle cx="928.4" cy="202.1" r="3.45"/><circle cx="929.0" cy="202.1" r="3.45"/><circle cx="929.7" cy="202.1" r="3.45"/><circle cx="930.4" cy="202.1" r="3.45"/><circle cx="931.1" cy="202.1" r="3.45"/><circle cx="931.7" cy="202.1" r="3.45"/><circle cx="932.4" cy="202.1" r="3.45"/><circle cx="933.1" cy="205.6" r="3.45"/><circle cx="933.8" cy="205.6" r="3.45"/><circle cx="934.4" cy="209.1" r="3.45"/><circle cx="935.1" cy="209.1" r="3.45"/><circle cx="935.8" cy="209.1" r="3.45"/><circle cx="936.5" cy="209.1" r="3.45"/><circle cx="937.1" cy="209.1" r="3.45"/><circle cx="937.8" cy="209.1" r="3.45"/><circle cx="938.5" cy="209.1" r="3.45"/><circle cx="939.2" cy="209.1" r="3.45"/><circle cx="939.8" cy="212.7" r="3.45"/><circle cx="940.5" cy="212.7" r="3.45"/><circle cx="941.2" cy="212.7" r="3.45"/><circle cx="941.9" cy="216.2" r="3.45"/><circle cx="942.5" cy="216.2" r="3.45"/><circle cx="943.2" cy="216.2" r="3.45"/><circle cx="943.9" cy="216.2" r="3.45"/><circle cx="944.6" cy="216.2" r="3.45"/><circle cx="945.2" cy="216.2" r="3.45"/><circle cx="945.9" cy="216.2" r="3.45"/><circle cx="946.6" cy="216.2" r="3.45"/><circle cx="947.2" cy="216.2" r="3.45"/><circle cx="947.9" cy="216.2" r="3.45"/><circle cx="948.6" cy="216.2" r="3.45"/><circle cx="949.3" cy="216.2" r="3.45"/><circle cx="949.9" cy="219.8" r="3.45"/><circle cx="950.6" cy="219.8" r="3.45"/><circle cx="951.3" cy="219.8" r="3.45"/><circle cx="952.0" cy="223.3" r="3.45"/><circle cx="952.6" cy="223.3" r="3.45"/><circle cx="953.3" cy="226.8" r="3.45"/><circle cx="954.0" cy="230.4" r="3.45"/><circle cx="954.7" cy="233.9" r="3.45"/><circle cx="955.3" cy="237.4" r="3.45"/><circle cx="956.0" cy="241.0" r="3.45"/><circle cx="956.7" cy="244.5" r="3.45"/><circle cx="957.4" cy="244.5" r="3.45"/><circle cx="958.0" cy="244.5" r="3.45"/><circle cx="958.7" cy="244.5" r="3.45"/><circle cx="959.4" cy="244.5" r="3.45"/><circle cx="960.1" cy="244.5" r="3.45"/><circle cx="960.7" cy="244.5" r="3.45"/><circle cx="961.4" cy="244.5" r="3.45"/><circle cx="962.1" cy="244.5" r="3.45"/><circle cx="962.7" cy="244.5" r="3.45"/><circle cx="963.4" cy="248.0" r="3.45"/><circle cx="964.1" cy="248.0" r="3.45"/><circle cx="964.8" cy="248.0" r="3.45"/><circle cx="965.4" cy="251.6" r="3.45"/><circle cx="966.1" cy="251.6" r="3.45"/><circle cx="966.8" cy="251.6" r="3.45"/><circle cx="967.5" cy="248.0" r="3.45"/><circle cx="968.1" cy="248.0" r="3.45"/><circle cx="968.8" cy="244.5" r="3.45"/><circle cx="969.5" cy="244.5" r="3.45"/><circle cx="970.2" cy="244.5" r="3.45"/><circle cx="970.8" cy="244.5" r="3.45"/><circle cx="971.5" cy="241.0" r="3.45"/><circle cx="972.2" cy="241.0" r="3.45"/><circle cx="972.9" cy="241.0" r="3.45"/><circle cx="973.5" cy="237.4" r="3.45"/><circle cx="974.2" cy="230.4" r="3.45"/><circle cx="974.9" cy="226.8" r="3.45"/><circle cx="975.6" cy="226.8" r="3.45"/><circle cx="976.2" cy="226.8" r="3.45"/><circle cx="976.9" cy="226.8" r="3.45"/><circle cx="977.6" cy="226.8" r="3.45"/><circle cx="978.3" cy="226.8" r="3.45"/><circle cx="978.9" cy="226.8" r="3.45"/><circle cx="979.6" cy="226.8" r="3.45"/><circle cx="980.3" cy="226.8" r="3.45"/><circle cx="980.9" cy="226.8" r="3.45"/><circle cx="981.6" cy="226.8" r="3.45"/><circle cx="982.3" cy="226.8" r="3.45"/><circle cx="983.0" cy="226.8" r="3.45"/><circle cx="983.6" cy="226.8" r="3.45"/><circle cx="984.3" cy="226.8" r="3.45"/><circle cx="985.0" cy="226.8" r="3.45"/><circle cx="985.7" cy="230.4" r="3.45"/><circle cx="986.3" cy="230.4" r="3.45"/><circle cx="987.0" cy="230.4" r="3.45"/><circle cx="987.7" cy="230.4" r="3.45"/><circle cx="988.4" cy="230.4" r="3.45"/><circle cx="989.0" cy="230.4" r="3.45"/><circle cx="989.7" cy="230.4" r="3.45"/><circle cx="990.4" cy="230.4" r="3.45"/><circle cx="991.1" cy="233.9" r="3.45"/><circle cx="991.7" cy="233.9" r="3.45"/><circle cx="992.4" cy="233.9" r="3.45"/><circle cx="993.1" cy="230.4" r="3.45"/><circle cx="993.8" cy="230.4" r="3.45"/><circle cx="994.4" cy="230.4" r="3.45"/><circle cx="995.1" cy="230.4" r="3.45"/><circle cx="995.8" cy="226.8" r="3.45"/><circle cx="996.4" cy="226.8" r="3.45"/><circle cx="997.1" cy="226.8" r="3.45"/><circle cx="997.8" cy="226.8" r="3.45"/><circle cx="998.5" cy="226.8" r="3.45"/><circle cx="999.1" cy="226.8" r="3.45"/><circle cx="999.8" cy="226.8" r="3.45"/><circle cx="1000.5" cy="226.8" r="3.45"/><circle cx="1001.2" cy="226.8" r="3.45"/><circle cx="1001.8" cy="226.8" r="3.45"/><circle cx="1002.5" cy="226.8" r="3.45"/><circle cx="1003.2" cy="223.3" r="3.45"/><circle cx="1003.9" cy="223.3" r="3.45"/><circle cx="1004.5" cy="223.3" r="3.45"/><circle cx="1005.2" cy="223.3" r="3.45"/><circle cx="1005.9" cy="223.3" r="3.45"/><circle cx="1006.6" cy="226.8" r="3.45"/><circle cx="1007.2" cy="226.8" r="3.45"/><circle cx="1007.9" cy="226.8" r="3.45"/><circle cx="1008.6" cy="226.8" r="3.45"/><circle cx="1009.3" cy="226.8" r="3.45"/><circle cx="1009.9" cy="226.8" r="3.45"/><circle cx="1010.6" cy="226.8" r="3.45"/><circle cx="1011.3" cy="226.8" r="3.45"/><circle cx="1012.0" cy="226.8" r="3.45"/><circle cx="1012.6" cy="226.8" r="3.45"/><circle cx="1013.3" cy="226.8" r="3.45"/><circle cx="1014.0" cy="226.8" r="3.45"/><circle cx="1014.6" cy="226.8" r="3.45"/><circle cx="1015.3" cy="226.8" r="3.45"/><circle cx="1016.0" cy="226.8" r="3.45"/><circle cx="1016.7" cy="230.4" r="3.45"/><circle cx="1017.3" cy="230.4" r="3.45"/><circle cx="1018.0" cy="230.4" r="3.45"/><circle cx="1018.7" cy="230.4" r="3.45"/><circle cx="1019.4" cy="230.4" r="3.45"/><circle cx="1020.0" cy="233.9" r="3.45"/><circle cx="1020.7" cy="233.9" r="3.45"/><circle cx="1021.4" cy="233.9" r="3.45"/><circle cx="1022.1" cy="233.9" r="3.45"/><circle cx="1022.7" cy="233.9" r="3.45"/><circle cx="1023.4" cy="230.4" r="3.45"/><circle cx="1024.1" cy="230.4" r="3.45"/><circle cx="1024.8" cy="226.8" r="3.45"/><circle cx="1025.4" cy="223.3" r="3.45"/><circle cx="1026.1" cy="219.8" r="3.45"/><circle cx="1026.8" cy="216.2" r="3.45"/><circle cx="1027.5" cy="216.2" r="3.45"/><circle cx="1028.1" cy="216.2" r="3.45"/><circle cx="1028.8" cy="216.2" r="3.45"/><circle cx="1029.5" cy="216.2" r="3.45"/><circle cx="1030.1" cy="216.2" r="3.45"/><circle cx="1030.8" cy="216.2" r="3.45"/><circle cx="1031.5" cy="216.2" r="3.45"/><circle cx="1032.2" cy="216.2" r="3.45"/><circle cx="1032.8" cy="216.2" r="3.45"/><circle cx="1033.5" cy="212.7" r="3.45"/><circle cx="1034.2" cy="212.7" r="3.45"/><circle cx="1034.9" cy="212.7" r="3.45"/><circle cx="1035.5" cy="216.2" r="3.45"/><circle cx="1036.2" cy="216.2" r="3.45"/><circle cx="1036.9" cy="216.2" r="3.45"/><circle cx="1037.6" cy="216.2" r="3.45"/><circle cx="1038.2" cy="216.2" r="3.45"/><circle cx="1038.9" cy="216.2" r="3.45"/><circle cx="1039.6" cy="216.2" r="3.45"/><circle cx="1040.3" cy="216.2" r="3.45"/><circle cx="1040.9" cy="216.2" r="3.45"/><circle cx="1041.6" cy="212.7" r="3.45"/><circle cx="1042.3" cy="212.7" r="3.45"/><circle cx="1043.0" cy="212.7" r="3.45"/><circle cx="1043.6" cy="209.1" r="3.45"/><circle cx="1044.3" cy="209.1" r="3.45"/><circle cx="1045.0" cy="209.1" r="3.45"/><circle cx="1045.7" cy="209.1" r="3.45"/><circle cx="1046.3" cy="209.1" r="3.45"/><circle cx="1047.0" cy="205.6" r="3.45"/><circle cx="1047.7" cy="205.6" r="3.45"/><circle cx="1048.3" cy="205.6" r="3.45"/><circle cx="1049.0" cy="205.6" r="3.45"/><circle cx="1049.7" cy="205.6" r="3.45"/><circle cx="1050.4" cy="205.6" r="3.45"/><circle cx="1051.0" cy="205.6" r="3.45"/><circle cx="1051.7" cy="209.1" r="3.45"/><circle cx="1052.4" cy="209.1" r="3.45"/><circle cx="1053.1" cy="209.1" r="3.45"/><circle cx="1053.7" cy="209.1" r="3.45"/><circle cx="1054.4" cy="209.1" r="3.45"/><circle cx="1055.1" cy="209.1" r="3.45"/><circle cx="1055.8" cy="209.1" r="3.45"/><circle cx="1056.4" cy="209.1" r="3.45"/><circle cx="1057.1" cy="209.1" r="3.45"/><circle cx="1057.8" cy="209.1" r="3.45"/><circle cx="1058.5" cy="212.7" r="3.45"/><circle cx="1059.1" cy="216.2" r="3.45"/><circle cx="1059.8" cy="219.8" r="3.45"/><circle cx="1060.5" cy="219.8" r="3.45"/><circle cx="1061.2" cy="223.3" r="3.45"/><circle cx="1061.8" cy="223.3" r="3.45"/><circle cx="1062.5" cy="226.8" r="3.45"/><circle cx="1063.2" cy="230.4" r="3.45"/><circle cx="1063.8" cy="230.4" r="3.45"/><circle cx="1064.5" cy="230.4" r="3.45"/><circle cx="1065.2" cy="230.4" r="3.45"/><circle cx="1065.9" cy="230.4" r="3.45"/><circle cx="1066.5" cy="230.4" r="3.45"/><circle cx="1067.2" cy="230.4" r="3.45"/><circle cx="1067.9" cy="230.4" r="3.45"/><circle cx="1068.6" cy="230.4" r="3.45"/><circle cx="1069.2" cy="230.4" r="3.45"/><circle cx="1069.9" cy="230.4" r="3.45"/><circle cx="1070.6" cy="230.4" r="3.45"/><circle cx="1071.3" cy="230.4" r="3.45"/><circle cx="1071.9" cy="230.4" r="3.45"/><circle cx="1072.6" cy="230.4" r="3.45"/><circle cx="1073.3" cy="230.4" r="3.45"/><circle cx="1074.0" cy="233.9" r="3.45"/><circle cx="1074.6" cy="233.9" r="3.45"/><circle cx="1075.3" cy="233.9" r="3.45"/><circle cx="1076.0" cy="233.9" r="3.45"/><circle cx="1076.7" cy="237.4" r="3.45"/><circle cx="1077.3" cy="237.4" r="3.45"/><circle cx="1078.0" cy="241.0" r="3.45"/><circle cx="1078.7" cy="241.0" r="3.45"/><circle cx="1079.4" cy="241.0" r="3.45"/><circle cx="1080.0" cy="241.0" r="3.45"/><circle cx="1080.7" cy="241.0" r="3.45"/><circle cx="1081.4" cy="241.0" r="3.45"/><circle cx="1082.0" cy="241.0" r="3.45"/><circle cx="1082.7" cy="241.0" r="3.45"/><circle cx="1083.4" cy="241.0" r="3.45"/><circle cx="1084.1" cy="241.0" r="3.45"/><circle cx="1084.7" cy="241.0" r="3.45"/><circle cx="1085.4" cy="241.0" r="3.45"/><circle cx="1086.1" cy="241.0" r="3.45"/><circle cx="1086.8" cy="241.0" r="3.45"/><circle cx="1087.4" cy="241.0" r="3.45"/><circle cx="1088.1" cy="241.0" r="3.45"/><circle cx="1088.8" cy="241.0" r="3.45"/><circle cx="1089.5" cy="241.0" r="3.45"/><circle cx="1090.1" cy="241.0" r="3.45"/><circle cx="1090.8" cy="241.0" r="3.45"/><circle cx="1091.5" cy="241.0" r="3.45"/><circle cx="1092.2" cy="241.0" r="3.45"/><circle cx="1092.8" cy="241.0" r="3.45"/><circle cx="1093.5" cy="241.0" r="3.45"/><circle cx="1094.2" cy="241.0" r="3.45"/><circle cx="1094.9" cy="241.0" r="3.45"/><circle cx="1095.5" cy="241.0" r="3.45"/><circle cx="1096.2" cy="241.0" r="3.45"/><circle cx="1096.9" cy="241.0" r="3.45"/><circle cx="1097.5" cy="241.0" r="3.45"/><circle cx="1098.2" cy="241.0" r="3.45"/><circle cx="1098.9" cy="241.0" r="3.45"/><circle cx="1099.6" cy="241.0" r="3.45"/></g>
</svg>
<svg width="1121" height="568" viewBox="0 0 1121 568" style="position:absolute;left:0;top:0;will-change:transform">
<g font-family="Liberation Sans, sans-serif" font-size="11.3" fill="#595959">
<line x1="148.3" y1="15.9" x2="173.5" y2="15.9" stroke="#00B050" stroke-width="2.2" stroke-linecap="round"/><circle cx="161" cy="15.9" r="3.5" fill="#00B050"/><text x="176.4" y="19.7" textLength="87.4" lengthAdjust="spacingAndGlyphs">Garmin Fenix2 HR</text>
<line x1="378.3" y1="15.9" x2="403.5" y2="15.9" stroke="#ED7D31" stroke-width="2.2" stroke-linecap="round"/><circle cx="391" cy="15.9" r="3.5" fill="#ED7D31"/><text x="406.4" y="19.7" textLength="85.6" lengthAdjust="spacingAndGlyphs">Garmin FR225 HR</text>
<line x1="606.3" y1="15.9" x2="631.5" y2="15.9" stroke="#5B9BD5" stroke-width="2.2" stroke-linecap="round"/><circle cx="619.8" cy="15.9" r="3.5" fill="#5B9BD5"/><text x="634.6" y="19.7" textLength="73.2" lengthAdjust="spacingAndGlyphs">Fitbit Surge HR</text>
<line x1="821.4" y1="15.9" x2="846.3" y2="15.9" stroke="#FFC000" stroke-width="2.2" stroke-linecap="round"/><circle cx="834.7" cy="15.9" r="3.5" fill="#FFC000"/><text x="850.0" y="19.7" textLength="113.2" lengthAdjust="spacingAndGlyphs">Microsoft Band HR X_X</text>
<text x="-33.1" y="556.8" textLength="56.2" lengthAdjust="spacingAndGlyphs">6:47:31 PM</text>
<text x="86.4" y="556.8" textLength="56.2" lengthAdjust="spacingAndGlyphs">6:50:24 PM</text>
<text x="205.9" y="556.8" textLength="56.2" lengthAdjust="spacingAndGlyphs">6:53:17 PM</text>
<text x="325.4" y="556.8" textLength="56.2" lengthAdjust="spacingAndGlyphs">6:56:10 PM</text>
<text x="444.9" y="556.8" textLength="56.2" lengthAdjust="spacingAndGlyphs">6:59:02 PM</text>
<text x="564.4" y="556.8" textLength="56.2" lengthAdjust="spacingAndGlyphs">7:01:55 PM</text>
<text x="683.9" y="556.8" textLength="56.2" lengthAdjust="spacingAndGlyphs">7:04:48 PM</text>
<text x="803.4" y="556.8" textLength="56.2" lengthAdjust="spacingAndGlyphs">7:07:41 PM</text>
<text x="922.9" y="556.8" textLength="56.2" lengthAdjust="spacingAndGlyphs">7:10:34 PM</text>
<text x="1042.4" y="556.8" textLength="56.2" lengthAdjust="spacingAndGlyphs">7:13:26 PM</text>
</g>
<rect x="546" y="567" width="7.6" height="1" fill="#D2D2D2"/>
</svg>
</body></html>
